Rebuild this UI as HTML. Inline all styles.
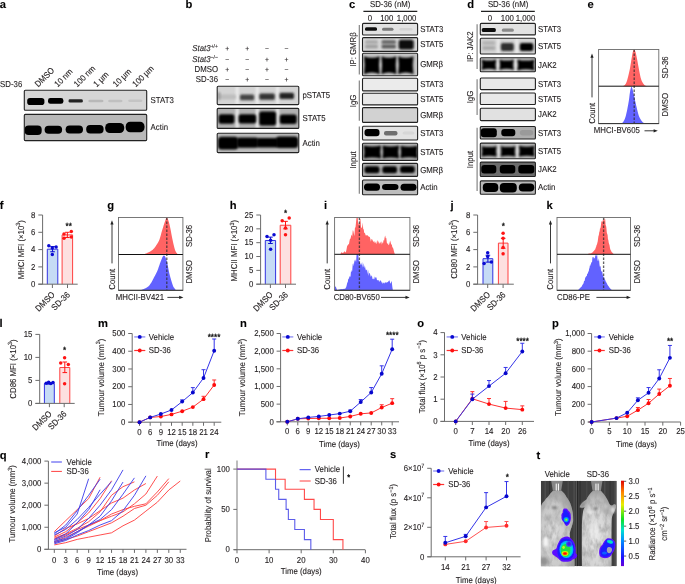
<!DOCTYPE html>
<html><head><meta charset="utf-8"><style>
html,body{margin:0;padding:0;background:#fff;width:685px;height:584px;overflow:hidden}
svg{display:block;will-change:transform}
text{font-family:"Liberation Sans",sans-serif;text-rendering:geometricPrecision;stroke:#231f20;stroke-width:0.12px}
</style></head><body>
<svg width="685" height="584" viewBox="0 0 685 584" font-family="Liberation Sans, sans-serif" fill="#231f20">
<defs>
<filter id="b0" x="-40%" y="-60%" width="180%" height="220%"><feGaussianBlur stdDeviation="0.5"/></filter>
<filter id="b1" x="-40%" y="-60%" width="180%" height="220%"><feGaussianBlur stdDeviation="0.8"/></filter>
<filter id="b2" x="-40%" y="-60%" width="180%" height="220%"><feGaussianBlur stdDeviation="1.2"/></filter>
<clipPath id="c1"><rect x="24.3" y="90.3" width="122.39999999999999" height="19.900000000000006" rx="1"/></clipPath>
<clipPath id="c2"><rect x="24.3" y="114.4" width="122.39999999999999" height="26.19999999999999" rx="1"/></clipPath>
<clipPath id="c3"><rect x="217.2" y="86.3" width="81.60000000000002" height="18.299999999999997" rx="1"/></clipPath>
<clipPath id="c4"><rect x="217.2" y="108.4" width="81.60000000000002" height="20.0" rx="1"/></clipPath>
<clipPath id="c5"><rect x="217.2" y="133.3" width="81.60000000000002" height="19.299999999999983" rx="1"/></clipPath>
<clipPath id="c6"><rect x="362.5" y="23.4" width="55.10000000000002" height="11.600000000000001" rx="1"/></clipPath>
<clipPath id="c7"><rect x="362.5" y="37.6" width="55.10000000000002" height="13.799999999999997" rx="1"/></clipPath>
<clipPath id="c8"><rect x="362.5" y="53.3" width="55.10000000000002" height="22.400000000000006" rx="1"/></clipPath>
<clipPath id="c9"><rect x="362.5" y="78.3" width="55.10000000000002" height="12.600000000000009" rx="1"/></clipPath>
<clipPath id="c10"><rect x="362.5" y="93.2" width="55.10000000000002" height="11.700000000000003" rx="1"/></clipPath>
<clipPath id="c11"><rect x="362.5" y="107.6" width="55.10000000000002" height="14.800000000000011" rx="1"/></clipPath>
<clipPath id="c12"><rect x="362.5" y="126.3" width="55.10000000000002" height="13.700000000000003" rx="1"/></clipPath>
<clipPath id="c13"><rect x="362.5" y="143.3" width="55.10000000000002" height="17.099999999999994" rx="1"/></clipPath>
<clipPath id="c14"><rect x="362.5" y="163.4" width="55.10000000000002" height="13.0" rx="1"/></clipPath>
<clipPath id="c15"><rect x="362.5" y="180.0" width="55.10000000000002" height="14.699999999999989" rx="1"/></clipPath>
<clipPath id="c16"><rect x="480.3" y="23.4" width="55.099999999999966" height="11.5" rx="1"/></clipPath>
<clipPath id="c17"><rect x="480.3" y="38.2" width="55.099999999999966" height="15.799999999999997" rx="1"/></clipPath>
<clipPath id="c18"><rect x="480.3" y="57.7" width="55.099999999999966" height="14.099999999999994" rx="1"/></clipPath>
<clipPath id="c19"><rect x="480.3" y="78.0" width="55.099999999999966" height="11.599999999999994" rx="1"/></clipPath>
<clipPath id="c20"><rect x="480.3" y="93.0" width="55.099999999999966" height="11.5" rx="1"/></clipPath>
<clipPath id="c21"><rect x="480.3" y="108.2" width="55.099999999999966" height="12.399999999999991" rx="1"/></clipPath>
<clipPath id="c22"><rect x="480.3" y="126.5" width="55.099999999999966" height="12.5" rx="1"/></clipPath>
<clipPath id="c23"><rect x="480.3" y="143.1" width="55.099999999999966" height="15.599999999999994" rx="1"/></clipPath>
<clipPath id="c24"><rect x="480.3" y="162.1" width="55.099999999999966" height="14.400000000000006" rx="1"/></clipPath>
<clipPath id="c25"><rect x="480.3" y="180.9" width="55.099999999999966" height="13.400000000000006" rx="1"/></clipPath>
<clipPath id="h599"><rect x="598.6" y="49.5" width="60.19999999999993" height="74.1"/></clipPath>
<clipPath id="h118"><rect x="118.5" y="217.5" width="64.4" height="72.80000000000001"/></clipPath>
<clipPath id="h335"><rect x="334.6" y="217.5" width="75.29999999999995" height="72.80000000000001"/></clipPath>
<clipPath id="h557"><rect x="557.0" y="217.5" width="73.5" height="72.80000000000001"/></clipPath>
<clipPath id="tclip"><rect x="540.8" y="480.8" width="76" height="85.5"/></clipPath>
<linearGradient id="bgL" x1="0" y1="0" x2="1" y2="0"><stop offset="0" stop-color="#4a4a4a"/><stop offset="0.5" stop-color="#3c3c3c"/><stop offset="1" stop-color="#505050"/></linearGradient>
<radialGradient id="bodyG" cx="0.4" cy="0.6" r="0.65"><stop offset="0" stop-color="#dcdcdc"/><stop offset="0.65" stop-color="#c8c8c8"/><stop offset="1" stop-color="#9a9a9a"/></radialGradient>
<radialGradient id="bodyG2" cx="0.45" cy="0.62" r="0.62"><stop offset="0" stop-color="#e6e6e6"/><stop offset="0.7" stop-color="#d0d0d0"/><stop offset="1" stop-color="#a0a0a0"/></radialGradient>
<linearGradient id="cbar" x1="0" y1="1" x2="0" y2="0">
<stop offset="0" stop-color="#6a00d8"/><stop offset="0.1" stop-color="#1c10ff"/><stop offset="0.3" stop-color="#0090ff"/><stop offset="0.42" stop-color="#00e0d0"/><stop offset="0.55" stop-color="#10e020"/><stop offset="0.72" stop-color="#e8ee00"/><stop offset="0.86" stop-color="#ff8800"/><stop offset="1" stop-color="#e00000"/></linearGradient>
<filter id="fur" x="0" y="0" width="1" height="1"><feTurbulence type="fractalNoise" baseFrequency="0.22 0.12" numOctaves="3" seed="5" result="n"/><feColorMatrix in="n" type="matrix" values="0 0 0 0 0.35  0 0 0 0 0.35  0 0 0 0 0.35  0 0 0 1.6 -0.55" result="m"/><feComposite in="m" in2="SourceGraphic" operator="in" result="t"/><feMerge><feMergeNode in="SourceGraphic"/><feMergeNode in="t"/></feMerge></filter>
<filter id="bl2" x="-30%" y="-30%" width="160%" height="160%"><feGaussianBlur stdDeviation="0.9"/></filter>
<filter id="bl3" x="-30%" y="-30%" width="160%" height="160%"><feGaussianBlur stdDeviation="0.6"/></filter>
</defs>
<rect width="685" height="584" fill="#fff"/>
<text transform="translate(-0.20,7.60)" font-size="11.2" font-weight="bold" fill="#000" >a</text>
<text transform="translate(0.10,87.30) scale(0.91,1)" font-size="8.6" >SD-36</text>
<text transform="translate(38.30,87.60) rotate(-45) scale(0.91,1)" font-size="8.6" >DMSO</text>
<text transform="translate(57.80,87.60) rotate(-45) scale(0.91,1)" font-size="8.6" >10 nm</text>
<text transform="translate(77.30,87.60) rotate(-45) scale(0.91,1)" font-size="8.6" >100 nm</text>
<text transform="translate(96.80,87.60) rotate(-45) scale(0.91,1)" font-size="8.6" >1 µm</text>
<text transform="translate(116.30,87.60) rotate(-45) scale(0.91,1)" font-size="8.6" >10 µm</text>
<text transform="translate(135.80,87.60) rotate(-45) scale(0.91,1)" font-size="8.6" >100 µm</text>
<g clip-path="url(#c1)">
<rect x="24.3" y="90.3" width="122.39999999999999" height="19.900000000000006" fill="#d6d6d6"/>
<rect x="27.20" y="98.00" width="17.20" height="7.00" rx="2.8" fill="#000" filter="url(#b0)"/>
<rect x="48.00" y="98.00" width="15.40" height="5.80" rx="2.4" fill="#000" filter="url(#b0)"/>
<rect x="68.60" y="99.20" width="14.20" height="3.40" rx="1.4" fill="#222" filter="url(#b0)"/>
<rect x="88.30" y="99.80" width="15.20" height="2.40" rx="1.8" fill="#b8b8b8" filter="url(#b0)"/>
<rect x="108.20" y="99.80" width="14.30" height="2.40" rx="1.8" fill="#c0c0c0" filter="url(#b0)"/>
<rect x="128.20" y="99.50" width="14.20" height="2.50" rx="1.8" fill="#c4c4c4" filter="url(#b0)"/>
</g>
<rect x="24.3" y="90.3" width="122.39999999999999" height="19.900000000000006" rx="1" fill="none" stroke="#222" stroke-width="1.1"/>
<g clip-path="url(#c2)">
<rect x="24.3" y="114.4" width="122.39999999999999" height="26.19999999999999" fill="#b9b9b9"/>
<rect x="24.60" y="125.40" width="17.10" height="9.60" rx="4" fill="#000" filter="url(#b0)"/>
<rect x="44.60" y="125.80" width="17.50" height="8.00" rx="4" fill="#000" filter="url(#b0)"/>
<rect x="65.60" y="125.60" width="17.40" height="7.80" rx="4" fill="#000" filter="url(#b0)"/>
<rect x="86.20" y="124.90" width="17.40" height="8.70" rx="4" fill="#000" filter="url(#b0)"/>
<rect x="105.20" y="123.00" width="19.00" height="10.00" rx="4.5" fill="#000" filter="url(#b0)"/>
<rect x="125.70" y="121.80" width="18.80" height="10.40" rx="4.5" fill="#000" filter="url(#b0)"/>
</g>
<rect x="24.3" y="114.4" width="122.39999999999999" height="26.19999999999999" rx="1" fill="none" stroke="#222" stroke-width="1.1"/>
<text transform="translate(150.60,102.60) scale(0.91,1)" font-size="8.6" >STAT3</text>
<text transform="translate(150.60,130.20) scale(0.91,1)" font-size="8.6" >Actin</text>
<text transform="translate(185.50,7.60)" font-size="11.2" font-weight="bold" fill="#000" >b</text>
<text transform="translate(218.00,51.30) scale(0.91,1)" font-size="8.6" text-anchor="end" ><tspan font-style="italic">Stat3</tspan><tspan font-size="5.6" dy="-3.2">+/+</tspan></text>
<text transform="translate(218.00,61.80) scale(0.91,1)" font-size="8.6" text-anchor="end" ><tspan font-style="italic">Stat3</tspan><tspan font-size="5.6" dy="-3.2">−/−</tspan></text>
<text transform="translate(218.00,72.10) scale(0.91,1)" font-size="8.6" text-anchor="end" >DMSO</text>
<text transform="translate(218.00,81.80) scale(0.91,1)" font-size="8.6" text-anchor="end" >SD-36</text>
<text transform="translate(227.30,51.00) scale(0.91,1)" font-size="7.4" text-anchor="middle" >+</text>
<text transform="translate(247.10,51.00) scale(0.91,1)" font-size="7.4" text-anchor="middle" >+</text>
<text transform="translate(266.90,51.30) scale(0.91,1)" font-size="7.4" text-anchor="middle" >−</text>
<text transform="translate(286.50,51.30) scale(0.91,1)" font-size="7.4" text-anchor="middle" >−</text>
<text transform="translate(227.30,61.80) scale(0.91,1)" font-size="7.4" text-anchor="middle" >−</text>
<text transform="translate(247.10,61.80) scale(0.91,1)" font-size="7.4" text-anchor="middle" >−</text>
<text transform="translate(266.90,61.50) scale(0.91,1)" font-size="7.4" text-anchor="middle" >+</text>
<text transform="translate(286.50,61.50) scale(0.91,1)" font-size="7.4" text-anchor="middle" >+</text>
<text transform="translate(227.30,71.80) scale(0.91,1)" font-size="7.4" text-anchor="middle" >+</text>
<text transform="translate(247.10,72.10) scale(0.91,1)" font-size="7.4" text-anchor="middle" >−</text>
<text transform="translate(266.90,71.80) scale(0.91,1)" font-size="7.4" text-anchor="middle" >+</text>
<text transform="translate(286.50,72.10) scale(0.91,1)" font-size="7.4" text-anchor="middle" >−</text>
<text transform="translate(227.30,81.80) scale(0.91,1)" font-size="7.4" text-anchor="middle" >−</text>
<text transform="translate(247.10,81.50) scale(0.91,1)" font-size="7.4" text-anchor="middle" >+</text>
<text transform="translate(266.90,81.80) scale(0.91,1)" font-size="7.4" text-anchor="middle" >−</text>
<text transform="translate(286.50,81.50) scale(0.91,1)" font-size="7.4" text-anchor="middle" >+</text>
<g clip-path="url(#c3)">
<rect x="217.2" y="86.3" width="81.60000000000002" height="18.299999999999997" fill="#d4d4d4"/>
<rect x="235.70" y="86.3" width="3" height="18.299999999999997" fill="#ececec" filter="url(#b1)"/>
<rect x="255.80" y="86.3" width="3" height="18.299999999999997" fill="#ececec" filter="url(#b1)"/>
<rect x="276.10" y="86.3" width="3" height="18.299999999999997" fill="#ececec" filter="url(#b1)"/>
<rect x="219.50" y="94.50" width="16.50" height="4.70" rx="1.5" fill="#bdbdbd" filter="url(#b1)"/>
<rect x="217.50" y="92.00" width="3.00" height="8.00" rx="1.5" fill="#9a9a9a" filter="url(#b1)"/>
<rect x="240.00" y="94.40" width="14.20" height="5.80" rx="1.5" fill="#444" filter="url(#b1)"/>
<rect x="259.30" y="93.40" width="15.50" height="6.40" rx="1.5" fill="#303030" filter="url(#b1)"/>
<rect x="279.50" y="92.80" width="14.50" height="6.20" rx="1.5" fill="#222" filter="url(#b1)"/>
</g>
<rect x="217.2" y="86.3" width="81.60000000000002" height="18.299999999999997" rx="1" fill="none" stroke="#222" stroke-width="1.1"/>
<g clip-path="url(#c4)">
<rect x="217.2" y="108.4" width="81.60000000000002" height="20.0" fill="#b2b2b2"/>
<rect x="235.70" y="108.4" width="3" height="20.0" fill="#ececec" filter="url(#b1)"/>
<rect x="255.80" y="108.4" width="3" height="20.0" fill="#ececec" filter="url(#b1)"/>
<rect x="276.10" y="108.4" width="3" height="20.0" fill="#ececec" filter="url(#b1)"/>
<rect x="218.60" y="114.20" width="15.80" height="9.60" rx="2.5" fill="#000" filter="url(#b1)"/>
<rect x="238.60" y="114.20" width="17.60" height="9.40" rx="2.5" fill="#000" filter="url(#b1)"/>
<rect x="259.20" y="111.40" width="16.90" height="14.20" rx="2.5" fill="#000" filter="url(#b1)"/>
<rect x="279.80" y="114.40" width="16.90" height="9.60" rx="2.5" fill="#000" filter="url(#b1)"/>
</g>
<rect x="217.2" y="108.4" width="81.60000000000002" height="20.0" rx="1" fill="none" stroke="#222" stroke-width="1.1"/>
<g clip-path="url(#c5)">
<rect x="217.2" y="133.3" width="81.60000000000002" height="19.299999999999983" fill="#bcbcbc"/>
<rect x="218.00" y="136.80" width="20.30" height="12.80" rx="3.5" fill="#000" filter="url(#b1)"/>
<rect x="236.80" y="137.60" width="21.50" height="10.20" rx="3" fill="#000" filter="url(#b1)"/>
<rect x="256.30" y="138.00" width="22.00" height="9.60" rx="3" fill="#000" filter="url(#b1)"/>
<rect x="275.80" y="136.60" width="22.50" height="11.40" rx="3.5" fill="#000" filter="url(#b1)"/>
</g>
<rect x="217.2" y="133.3" width="81.60000000000002" height="19.299999999999983" rx="1" fill="none" stroke="#222" stroke-width="1.1"/>
<text transform="translate(302.50,98.10) scale(0.91,1)" font-size="8.6" >pSTAT5</text>
<text transform="translate(302.50,121.20) scale(0.91,1)" font-size="8.6" >STAT5</text>
<text transform="translate(302.50,145.50) scale(0.91,1)" font-size="8.6" >Actin</text>
<text transform="translate(349.00,7.60)" font-size="11.2" font-weight="bold" fill="#000" >c</text>
<text transform="translate(390.20,7.00) scale(0.91,1)" font-size="8.6" text-anchor="middle" >SD-36 (nM)</text>
<line x1="363.40" y1="11.40" x2="417.30" y2="11.40" stroke="#222" stroke-width="1.1" />
<text transform="translate(370.00,20.80) scale(0.91,1)" font-size="8.6" text-anchor="middle" >0</text>
<text transform="translate(386.80,20.80) scale(0.91,1)" font-size="8.6" text-anchor="middle" >100</text>
<text transform="translate(406.60,20.80) scale(0.91,1)" font-size="8.6" text-anchor="middle" >1,000</text>
<g clip-path="url(#c6)">
<rect x="362.5" y="23.4" width="55.10000000000002" height="11.600000000000001" fill="#e2e2e2"/>
<rect x="365.00" y="27.30" width="12.00" height="3.50" rx="1.5" fill="#111" filter="url(#b0)"/>
<rect x="382.00" y="27.80" width="11.50" height="3.00" rx="1.5" fill="#7a7a7a" filter="url(#b0)"/>
<rect x="399.50" y="28.00" width="13.00" height="2.50" rx="1.5" fill="#d2d2d2" filter="url(#b0)"/>
</g>
<rect x="362.5" y="23.4" width="55.10000000000002" height="11.600000000000001" rx="1" fill="none" stroke="#222" stroke-width="1.1"/>
<text transform="translate(420.20,31.95) scale(0.91,1)" font-size="8.6" >STAT3</text>
<g clip-path="url(#c7)">
<rect x="362.5" y="37.6" width="55.10000000000002" height="13.799999999999997" fill="#d8d8d8"/>
<rect x="365.00" y="40.00" width="13.00" height="4.00" rx="1.5" fill="#acacac" filter="url(#b1)"/>
<rect x="365.00" y="44.50" width="13.00" height="4.00" rx="1.5" fill="#a0a0a0" filter="url(#b1)"/>
<rect x="381.50" y="40.00" width="14.50" height="4.00" rx="1.5" fill="#6a6a6a" filter="url(#b1)"/>
<rect x="381.50" y="44.50" width="14.50" height="4.00" rx="1.5" fill="#5a5a5a" filter="url(#b1)"/>
<rect x="398.70" y="39.80" width="15.00" height="9.80" rx="2" fill="#0a0a0a" filter="url(#b1)"/>
</g>
<rect x="362.5" y="37.6" width="55.10000000000002" height="13.799999999999997" rx="1" fill="none" stroke="#222" stroke-width="1.1"/>
<text transform="translate(420.20,47.25) scale(0.91,1)" font-size="8.6" >STAT5</text>
<g clip-path="url(#c8)">
<rect x="362.5" y="53.3" width="55.10000000000002" height="22.400000000000006" fill="#c4c4c4"/>
<rect x="379.70" y="53.3" width="2.0" height="22.400000000000006" fill="#dadada" filter="url(#b1)"/>
<rect x="396.50" y="53.3" width="2.0" height="22.400000000000006" fill="#dadada" filter="url(#b1)"/>
<path d="M364.00,56.20 Q371.90,59.40 379.80,56.20 Q378.30,65.20 379.80,74.20 Q371.90,71.00 364.00,74.20 Q365.50,65.20 364.00,56.20 Z" fill="#000" filter="url(#b1)"/>
<path d="M381.30,56.20 Q388.90,59.40 396.50,56.20 Q395.00,65.20 396.50,74.20 Q388.90,71.00 381.30,74.20 Q382.80,65.20 381.30,56.20 Z" fill="#000" filter="url(#b1)"/>
<path d="M398.10,56.20 Q405.80,59.40 413.50,56.20 Q412.00,65.20 413.50,74.20 Q405.80,71.00 398.10,74.20 Q399.60,65.20 398.10,56.20 Z" fill="#000" filter="url(#b1)"/>
</g>
<rect x="362.5" y="53.3" width="55.10000000000002" height="22.400000000000006" rx="1" fill="none" stroke="#222" stroke-width="1.1"/>
<text transform="translate(420.20,67.25) scale(0.91,1)" font-size="8.6" >GMRβ</text>
<g clip-path="url(#c9)">
<rect x="362.5" y="78.3" width="55.10000000000002" height="12.600000000000009" fill="#ebebeb"/>
</g>
<rect x="362.5" y="78.3" width="55.10000000000002" height="12.600000000000009" rx="1" fill="none" stroke="#222" stroke-width="1.1"/>
<text transform="translate(420.20,87.35) scale(0.91,1)" font-size="8.6" >STAT3</text>
<g clip-path="url(#c10)">
<rect x="362.5" y="93.2" width="55.10000000000002" height="11.700000000000003" fill="#e8e8e8"/>
</g>
<rect x="362.5" y="93.2" width="55.10000000000002" height="11.700000000000003" rx="1" fill="none" stroke="#222" stroke-width="1.1"/>
<text transform="translate(420.20,101.80) scale(0.91,1)" font-size="8.6" >STAT5</text>
<g clip-path="url(#c11)">
<rect x="362.5" y="107.6" width="55.10000000000002" height="14.800000000000011" fill="#d2d2d2"/>
</g>
<rect x="362.5" y="107.6" width="55.10000000000002" height="14.800000000000011" rx="1" fill="none" stroke="#222" stroke-width="1.1"/>
<text transform="translate(420.20,117.75) scale(0.91,1)" font-size="8.6" >GMRβ</text>
<g clip-path="url(#c12)">
<rect x="362.5" y="126.3" width="55.10000000000002" height="13.700000000000003" fill="#e2e2e2"/>
<rect x="364.50" y="129.00" width="15.00" height="7.30" rx="3" fill="#000" filter="url(#b0)"/>
<rect x="384.00" y="131.00" width="13.50" height="4.50" rx="2" fill="#6e6e6e" filter="url(#b0)"/>
<rect x="402.50" y="131.50" width="12.00" height="3.00" rx="2" fill="#d6d6d6" filter="url(#b0)"/>
</g>
<rect x="362.5" y="126.3" width="55.10000000000002" height="13.700000000000003" rx="1" fill="none" stroke="#222" stroke-width="1.1"/>
<text transform="translate(420.20,135.90) scale(0.91,1)" font-size="8.6" >STAT3</text>
<g clip-path="url(#c13)">
<rect x="362.5" y="143.3" width="55.10000000000002" height="17.099999999999994" fill="#b4b4b4"/>
<rect x="381.00" y="143.3" width="1.6" height="17.099999999999994" fill="#d0d0d0" filter="url(#b1)"/>
<rect x="399.00" y="143.3" width="1.6" height="17.099999999999994" fill="#d0d0d0" filter="url(#b1)"/>
<path d="M363.70,145.60 Q372.40,147.60 381.10,145.60 Q379.60,152.10 381.10,158.60 Q372.40,156.60 363.70,158.60 Q365.20,152.10 363.70,145.60 Z" fill="#000" filter="url(#b1)"/>
<path d="M382.30,145.60 Q390.70,147.60 399.10,145.60 Q397.60,152.10 399.10,158.60 Q390.70,156.60 382.30,158.60 Q383.80,152.10 382.30,145.60 Z" fill="#000" filter="url(#b1)"/>
<path d="M400.30,145.80 Q409.00,147.80 417.70,145.80 Q416.20,152.00 417.70,158.20 Q409.00,156.20 400.30,158.20 Q401.80,152.00 400.30,145.80 Z" fill="#000" filter="url(#b1)"/>
</g>
<rect x="362.5" y="143.3" width="55.10000000000002" height="17.099999999999994" rx="1" fill="none" stroke="#222" stroke-width="1.1"/>
<text transform="translate(420.20,154.60) scale(0.91,1)" font-size="8.6" >STAT5</text>
<g clip-path="url(#c14)">
<rect x="362.5" y="163.4" width="55.10000000000002" height="13.0" fill="#b2b2b2"/>
<rect x="364.50" y="166.30" width="15.00" height="7.00" rx="2.5" fill="#000" filter="url(#b1)"/>
<rect x="382.30" y="166.30" width="14.80" height="7.00" rx="2.5" fill="#000" filter="url(#b1)"/>
<rect x="400.00" y="166.00" width="14.80" height="7.00" rx="2.5" fill="#000" filter="url(#b1)"/>
</g>
<rect x="362.5" y="163.4" width="55.10000000000002" height="13.0" rx="1" fill="none" stroke="#222" stroke-width="1.1"/>
<text transform="translate(420.20,172.65) scale(0.91,1)" font-size="8.6" >GMRβ</text>
<g clip-path="url(#c15)">
<rect x="362.5" y="180.0" width="55.10000000000002" height="14.699999999999989" fill="#bdbdbd"/>
<rect x="364.00" y="183.60" width="16.00" height="7.10" rx="3.5" fill="#000" filter="url(#b0)"/>
<rect x="382.00" y="184.00" width="16.50" height="6.00" rx="3.5" fill="#000" filter="url(#b0)"/>
<rect x="400.50" y="183.80" width="16.00" height="7.00" rx="3.5" fill="#000" filter="url(#b0)"/>
</g>
<rect x="362.5" y="180.0" width="55.10000000000002" height="14.699999999999989" rx="1" fill="none" stroke="#222" stroke-width="1.1"/>
<text transform="translate(420.20,190.10) scale(0.91,1)" font-size="8.6" >Actin</text>
<line x1="359.30" y1="25.00" x2="359.30" y2="74.50" stroke="#7a7a7a" stroke-width="1.1" />
<line x1="359.30" y1="80.60" x2="359.30" y2="120.80" stroke="#7a7a7a" stroke-width="1.1" />
<line x1="359.30" y1="126.60" x2="359.30" y2="193.70" stroke="#7a7a7a" stroke-width="1.1" />
<text transform="translate(355.50,49.50) rotate(-90) scale(0.91,1)" font-size="8.6" text-anchor="middle" >IP: GMRβ</text>
<text transform="translate(355.50,100.90) rotate(-90) scale(0.91,1)" font-size="8.6" text-anchor="middle" >IgG</text>
<text transform="translate(355.50,159.90) rotate(-90) scale(0.91,1)" font-size="8.6" text-anchor="middle" >Input</text>
<text transform="translate(467.30,7.60)" font-size="11.2" font-weight="bold" fill="#000" >d</text>
<text transform="translate(508.10,7.00) scale(0.91,1)" font-size="8.6" text-anchor="middle" >SD-36 (nM)</text>
<line x1="481.00" y1="11.40" x2="534.80" y2="11.40" stroke="#222" stroke-width="1.1" />
<text transform="translate(489.90,20.60) scale(0.91,1)" font-size="8.6" text-anchor="middle" >0</text>
<text transform="translate(507.40,20.60) scale(0.91,1)" font-size="8.6" text-anchor="middle" >100</text>
<text transform="translate(525.50,20.60) scale(0.91,1)" font-size="8.6" text-anchor="middle" >1,000</text>
<g clip-path="url(#c16)">
<rect x="480.3" y="23.4" width="55.099999999999966" height="11.5" fill="#e2e2e2"/>
<rect x="481.80" y="28.00" width="14.00" height="4.00" rx="1.5" fill="#0a0a0a" filter="url(#b0)"/>
<rect x="501.80" y="28.60" width="12.00" height="3.20" rx="1.5" fill="#8a8a8a" filter="url(#b0)"/>
</g>
<rect x="480.3" y="23.4" width="55.099999999999966" height="11.5" rx="1" fill="none" stroke="#222" stroke-width="1.1"/>
<text transform="translate(538.00,31.90) scale(0.91,1)" font-size="8.6" >STAT3</text>
<g clip-path="url(#c17)">
<rect x="480.3" y="38.2" width="55.099999999999966" height="15.799999999999997" fill="#d4d4d4"/>
<rect x="496.80" y="38.2" width="3" height="15.799999999999997" fill="#e8e8e8" filter="url(#b1)"/>
<rect x="515.30" y="38.2" width="3" height="15.799999999999997" fill="#e8e8e8" filter="url(#b1)"/>
<rect x="482.30" y="41.00" width="13.00" height="4.00" rx="1.5" fill="#b4b4b4" filter="url(#b1)"/>
<rect x="482.30" y="46.00" width="13.00" height="4.00" rx="1.5" fill="#aaaaaa" filter="url(#b1)"/>
<rect x="500.80" y="43.00" width="13.00" height="8.00" rx="2" fill="#2e2e2e" filter="url(#b1)"/>
<rect x="519.80" y="43.00" width="13.50" height="8.00" rx="2" fill="#000" filter="url(#b1)"/>
</g>
<rect x="480.3" y="38.2" width="55.099999999999966" height="15.799999999999997" rx="1" fill="none" stroke="#222" stroke-width="1.1"/>
<text transform="translate(538.00,48.85) scale(0.91,1)" font-size="8.6" >STAT5</text>
<g clip-path="url(#c18)">
<rect x="480.3" y="57.7" width="55.099999999999966" height="14.099999999999994" fill="#c4c4c4"/>
<rect x="496.60" y="57.7" width="2.6" height="14.099999999999994" fill="#e4e4e4" filter="url(#b1)"/>
<rect x="514.40" y="57.7" width="2.6" height="14.099999999999994" fill="#e4e4e4" filter="url(#b1)"/>
<path d="M481.60,59.40 Q488.95,61.80 496.30,59.40 Q494.80,64.70 496.30,70.00 Q488.95,67.60 481.60,70.00 Q483.10,64.70 481.60,59.40 Z" fill="#000" filter="url(#b1)"/>
<path d="M499.30,59.40 Q506.60,61.80 513.90,59.40 Q512.40,64.70 513.90,70.00 Q506.60,67.60 499.30,70.00 Q500.80,64.70 499.30,59.40 Z" fill="#000" filter="url(#b1)"/>
<path d="M517.30,59.40 Q525.90,61.80 534.50,59.40 Q533.00,64.90 534.50,70.40 Q525.90,68.00 517.30,70.40 Q518.80,64.90 517.30,59.40 Z" fill="#000" filter="url(#b1)"/>
</g>
<rect x="480.3" y="57.7" width="55.099999999999966" height="14.099999999999994" rx="1" fill="none" stroke="#222" stroke-width="1.1"/>
<text transform="translate(538.00,67.50) scale(0.91,1)" font-size="8.6" >JAK2</text>
<g clip-path="url(#c19)">
<rect x="480.3" y="78.0" width="55.099999999999966" height="11.599999999999994" fill="#e9e9e9"/>
</g>
<rect x="480.3" y="78.0" width="55.099999999999966" height="11.599999999999994" rx="1" fill="none" stroke="#222" stroke-width="1.1"/>
<text transform="translate(538.00,86.55) scale(0.91,1)" font-size="8.6" >STAT3</text>
<g clip-path="url(#c20)">
<rect x="480.3" y="93.0" width="55.099999999999966" height="11.5" fill="#e9e9e9"/>
</g>
<rect x="480.3" y="93.0" width="55.099999999999966" height="11.5" rx="1" fill="none" stroke="#222" stroke-width="1.1"/>
<text transform="translate(538.00,101.50) scale(0.91,1)" font-size="8.6" >STAT5</text>
<g clip-path="url(#c21)">
<rect x="480.3" y="108.2" width="55.099999999999966" height="12.399999999999991" fill="#e1e1e1"/>
</g>
<rect x="480.3" y="108.2" width="55.099999999999966" height="12.399999999999991" rx="1" fill="none" stroke="#222" stroke-width="1.1"/>
<text transform="translate(538.00,117.15) scale(0.91,1)" font-size="8.6" >JAK2</text>
<g clip-path="url(#c22)">
<rect x="480.3" y="126.5" width="55.099999999999966" height="12.5" fill="#adadad"/>
<rect x="480.80" y="128.30" width="16.00" height="8.90" rx="3" fill="#000" filter="url(#b0)"/>
<rect x="501.30" y="129.00" width="14.00" height="7.30" rx="3" fill="#000" filter="url(#b0)"/>
<rect x="519.80" y="130.00" width="13.50" height="5.50" rx="3" fill="#9a9a9a" filter="url(#b0)"/>
</g>
<rect x="480.3" y="126.5" width="55.099999999999966" height="12.5" rx="1" fill="none" stroke="#222" stroke-width="1.1"/>
<text transform="translate(538.00,135.50) scale(0.91,1)" font-size="8.6" >STAT3</text>
<g clip-path="url(#c23)">
<rect x="480.3" y="143.1" width="55.099999999999966" height="15.599999999999994" fill="#b6b6b6"/>
<rect x="497.20" y="143.1" width="2.6" height="15.599999999999994" fill="#dedede" filter="url(#b1)"/>
<rect x="516.00" y="143.1" width="2.6" height="15.599999999999994" fill="#dedede" filter="url(#b1)"/>
<path d="M481.60,146.20 Q489.15,148.00 496.70,146.20 Q495.20,151.40 496.70,156.60 Q489.15,154.80 481.60,156.60 Q483.10,151.40 481.60,146.20 Z" fill="#000" filter="url(#b1)"/>
<path d="M500.50,146.20 Q508.05,148.00 515.60,146.20 Q514.10,151.40 515.60,156.60 Q508.05,154.80 500.50,156.60 Q502.00,151.40 500.50,146.20 Z" fill="#000" filter="url(#b1)"/>
<path d="M518.90,145.80 Q526.75,147.60 534.60,145.80 Q533.10,151.20 534.60,156.60 Q526.75,154.80 518.90,156.60 Q520.40,151.20 518.90,145.80 Z" fill="#000" filter="url(#b1)"/>
</g>
<rect x="480.3" y="143.1" width="55.099999999999966" height="15.599999999999994" rx="1" fill="none" stroke="#222" stroke-width="1.1"/>
<text transform="translate(538.00,153.65) scale(0.91,1)" font-size="8.6" >STAT5</text>
<g clip-path="url(#c24)">
<rect x="480.3" y="162.1" width="55.099999999999966" height="14.400000000000006" fill="#6c6c6c"/>
<rect x="481.30" y="165.00" width="15.00" height="8.50" rx="3" fill="#000" filter="url(#b0)"/>
<rect x="499.80" y="165.00" width="15.50" height="8.50" rx="3" fill="#000" filter="url(#b0)"/>
<rect x="518.30" y="165.00" width="16.00" height="8.50" rx="3" fill="#000" filter="url(#b0)"/>
</g>
<rect x="480.3" y="162.1" width="55.099999999999966" height="14.400000000000006" rx="1" fill="none" stroke="#222" stroke-width="1.1"/>
<text transform="translate(538.00,172.05) scale(0.91,1)" font-size="8.6" >JAK2</text>
<g clip-path="url(#c25)">
<rect x="480.3" y="180.9" width="55.099999999999966" height="13.400000000000006" fill="#b8b8b8"/>
<rect x="482.80" y="183.00" width="15.50" height="9.00" rx="4" fill="#000" filter="url(#b0)"/>
<rect x="499.80" y="183.00" width="17.00" height="9.50" rx="4" fill="#000" filter="url(#b0)"/>
<rect x="518.80" y="183.50" width="15.50" height="8.00" rx="4" fill="#000" filter="url(#b0)"/>
</g>
<rect x="480.3" y="180.9" width="55.099999999999966" height="13.400000000000006" rx="1" fill="none" stroke="#222" stroke-width="1.1"/>
<text transform="translate(538.00,190.35) scale(0.91,1)" font-size="8.6" >Actin</text>
<line x1="477.10" y1="24.30" x2="477.10" y2="69.00" stroke="#7a7a7a" stroke-width="1.1" />
<line x1="477.10" y1="79.30" x2="477.10" y2="114.90" stroke="#7a7a7a" stroke-width="1.1" />
<line x1="477.10" y1="127.70" x2="477.10" y2="190.90" stroke="#7a7a7a" stroke-width="1.1" />
<text transform="translate(473.30,46.70) rotate(-90) scale(0.91,1)" font-size="8.6" text-anchor="middle" >IP: JAK2</text>
<text transform="translate(473.30,97.00) rotate(-90) scale(0.91,1)" font-size="8.6" text-anchor="middle" >IgG</text>
<text transform="translate(473.30,159.50) rotate(-90) scale(0.91,1)" font-size="8.6" text-anchor="middle" >Input</text>
<text transform="translate(587.60,7.60)" font-size="11.2" font-weight="bold" fill="#000" >e</text>
<g clip-path="url(#h599)">
<path d="M623.00,86.20 L623.00,86.20 L623.27,86.04 L623.66,85.84 L624.10,85.57 L624.57,85.21 L625.00,84.73 L625.39,84.20 L625.77,83.64 L626.15,82.94 L626.56,81.99 L627.00,80.70 L627.36,79.48 L627.75,78.05 L628.16,76.45 L628.57,74.74 L628.97,73.01 L629.36,71.30 L629.70,69.69 L630.13,67.47 L630.51,65.23 L630.86,63.02 L631.19,60.93 L631.50,59.04 L631.97,56.28 L632.39,53.93 L632.80,52.07 L633.23,50.71 L633.67,49.84 L634.10,49.50 L634.54,49.77 L634.97,50.57 L635.40,51.70 L635.80,53.12 L636.19,54.86 L636.60,56.84 L637.05,59.10 L637.52,61.60 L638.00,64.18 L638.37,66.18 L638.74,68.26 L639.12,70.32 L639.50,72.25 L639.86,74.06 L640.22,75.79 L640.59,77.40 L641.00,78.86 L641.37,79.92 L641.76,80.89 L642.18,81.77 L642.59,82.56 L643.00,83.26 L643.40,83.87 L643.80,84.37 L644.19,84.80 L644.59,85.15 L645.00,85.47 L645.37,85.68 L645.77,85.85 L646.17,85.97 L646.55,86.06 L646.87,86.14 L647.10,86.20 L647.10,86.20 Z" fill="#ff6363"/>
<path d="M621.70,123.60 L621.70,123.60 L621.94,123.35 L622.27,123.02 L622.66,122.59 L623.09,122.06 L623.50,121.39 L623.84,120.79 L624.19,120.18 L624.54,119.48 L624.91,118.64 L625.30,117.58 L625.70,116.24 L626.07,114.79 L626.47,113.06 L626.89,111.14 L627.30,109.13 L627.70,107.10 L628.07,105.15 L628.40,103.36 L628.88,100.38 L629.27,97.47 L629.60,94.84 L629.90,92.69 L630.34,90.11 L630.70,88.64 L631.09,87.35 L631.50,86.80 L631.92,87.26 L632.40,88.64 L632.79,90.14 L633.23,92.05 L633.70,94.16 L634.08,95.87 L634.48,97.72 L634.89,99.64 L635.30,101.52 L635.71,103.36 L636.12,105.20 L636.55,107.04 L637.00,108.88 L637.37,110.40 L637.75,111.97 L638.15,113.51 L638.56,114.96 L639.00,116.24 L639.34,117.04 L639.69,117.78 L640.06,118.45 L640.44,119.07 L640.81,119.64 L641.16,120.17 L641.50,120.66 L641.93,121.26 L642.32,121.77 L642.70,122.19 L643.09,122.55 L643.50,122.86 L643.89,123.08 L644.33,123.25 L644.77,123.37 L645.19,123.46 L645.55,123.54 L645.80,123.60 L645.80,123.60 Z" fill="#6262ff"/>
</g>
<line x1="634.20" y1="49.50" x2="634.20" y2="123.60" stroke="#2a2a2a" stroke-width="1.35" stroke-dasharray="2.4,1.6" opacity="0.72"/>
<rect x="598.6" y="49.5" width="60.19999999999993" height="74.1" fill="none" stroke="#6a6a6a" stroke-width="0.9"/>
<line x1="598.60" y1="86.20" x2="658.80" y2="86.20" stroke="#111" stroke-width="1.0" />
<line x1="598.60" y1="123.60" x2="658.80" y2="123.60" stroke="#333" stroke-width="1.0" />
<text transform="translate(667.90,67.40) rotate(-90) scale(0.91,1)" font-size="8.6" text-anchor="middle" >SD-36</text>
<text transform="translate(667.90,104.70) rotate(-90) scale(0.91,1)" font-size="8.6" text-anchor="middle" >DMSO</text>
<text transform="translate(593.80,133.30) scale(0.91,1)" font-size="8.6" >MHCI-BV605</text>
<line x1="644.50" y1="130.80" x2="654.80" y2="130.80" stroke="#222" stroke-width="0.9" />
<path d="M657.80,130.80 L653.60,129.20 L653.60,132.40 Z" fill="#222"/>
<line x1="592.00" y1="56.50" x2="592.00" y2="97.40" stroke="#222" stroke-width="0.9" />
<path d="M592.00,53.50 L590.40,57.70 L593.60,57.70 Z" fill="#222"/>
<text transform="translate(594.70,113.20) rotate(-90) scale(0.91,1)" font-size="8.6" text-anchor="middle" >Count</text>
<text transform="translate(107.30,209.40)" font-size="11.2" font-weight="bold" fill="#000" >g</text>
<g clip-path="url(#h118)">
<path d="M143.60,254.50 L143.60,254.50 L143.83,254.40 L144.12,254.28 L144.47,254.13 L144.86,253.96 L145.27,253.78 L145.71,253.59 L146.15,253.40 L146.59,253.21 L147.00,253.02 L147.37,252.85 L147.75,252.67 L148.15,252.50 L148.54,252.32 L148.94,252.13 L149.34,251.95 L149.73,251.76 L150.10,251.56 L150.46,251.36 L150.80,251.16 L151.24,250.87 L151.65,250.58 L152.04,250.29 L152.41,249.99 L152.77,249.66 L153.13,249.31 L153.50,248.94 L153.87,248.54 L154.23,248.14 L154.58,247.72 L154.94,247.27 L155.31,246.77 L155.69,246.22 L156.10,245.60 L156.44,245.07 L156.80,244.51 L157.17,243.92 L157.56,243.30 L157.94,242.64 L158.33,241.95 L158.70,241.23 L159.06,240.46 L159.40,239.66 L159.81,238.54 L160.19,237.32 L160.56,236.03 L160.92,234.70 L161.27,233.36 L161.63,232.03 L162.00,230.76 L162.39,229.49 L162.78,228.18 L163.19,226.88 L163.59,225.60 L163.98,224.38 L164.35,223.24 L164.70,222.22 L165.15,220.90 L165.57,219.65 L165.96,218.59 L166.34,217.81 L166.70,217.40 L167.13,217.52 L167.52,218.19 L167.90,219.21 L168.30,220.37 L168.70,221.54 L169.09,222.87 L169.51,224.52 L170.00,226.68 L170.32,228.24 L170.68,230.06 L171.05,232.06 L171.44,234.14 L171.83,236.23 L172.22,238.22 L172.60,240.03 L172.97,241.73 L173.34,243.40 L173.71,245.02 L174.08,246.56 L174.45,248.00 L174.82,249.29 L175.20,250.42 L175.60,251.37 L176.04,252.16 L176.49,252.82 L176.93,253.37 L177.32,253.82 L177.66,254.19 L177.90,254.50 L177.90,254.50 Z" fill="#ff6363"/>
<path d="M140.90,290.10 L140.90,290.10 L141.11,290.02 L141.39,289.92 L141.71,289.80 L142.08,289.67 L142.47,289.53 L142.88,289.37 L143.30,289.21 L143.72,289.04 L144.12,288.86 L144.50,288.69 L144.87,288.51 L145.25,288.33 L145.63,288.15 L146.02,287.96 L146.40,287.76 L146.78,287.55 L147.15,287.33 L147.52,287.10 L147.87,286.84 L148.20,286.57 L148.60,286.20 L148.97,285.81 L149.33,285.40 L149.67,284.96 L150.01,284.50 L150.34,284.03 L150.67,283.54 L151.00,283.04 L151.36,282.47 L151.70,281.90 L152.02,281.31 L152.35,280.70 L152.69,280.02 L153.07,279.28 L153.50,278.45 L153.80,277.87 L154.13,277.25 L154.48,276.60 L154.84,275.92 L155.21,275.22 L155.59,274.49 L155.97,273.75 L156.34,272.99 L156.71,272.23 L157.06,271.46 L157.40,270.69 L157.79,269.71 L158.18,268.68 L158.55,267.61 L158.92,266.53 L159.28,265.45 L159.64,264.38 L159.99,263.36 L160.35,262.40 L160.70,261.51 L161.10,260.53 L161.49,259.52 L161.89,258.53 L162.27,257.60 L162.66,256.79 L163.04,256.14 L163.42,255.69 L163.80,255.51 L164.17,255.58 L164.55,255.87 L164.92,256.35 L165.28,257.01 L165.64,257.80 L166.00,258.72 L166.35,259.72 L166.70,260.80 L167.08,262.20 L167.44,263.84 L167.80,265.64 L168.15,267.54 L168.51,269.47 L168.89,271.37 L169.30,273.16 L169.64,274.53 L170.01,275.95 L170.40,277.39 L170.80,278.83 L171.19,280.22 L171.58,281.55 L171.95,282.78 L172.29,283.87 L172.60,284.81 L173.08,286.06 L173.48,286.89 L173.84,287.44 L174.17,287.87 L174.50,288.34 L174.92,288.94 L175.32,289.44 L175.66,289.82 L175.90,290.10 L175.90,290.10 Z" fill="#6262ff"/>
</g>
<line x1="166.80" y1="217.50" x2="166.80" y2="290.30" stroke="#2a2a2a" stroke-width="1.35" stroke-dasharray="2.4,1.6" opacity="0.72"/>
<rect x="118.5" y="217.5" width="64.4" height="72.80000000000001" fill="none" stroke="#6a6a6a" stroke-width="0.9"/>
<line x1="118.50" y1="254.50" x2="182.90" y2="254.50" stroke="#111" stroke-width="1.0" />
<line x1="118.50" y1="290.30" x2="182.90" y2="290.30" stroke="#333" stroke-width="1.0" />
<text transform="translate(192.30,235.90) rotate(-90) scale(0.91,1)" font-size="8.6" text-anchor="middle" >SD-36</text>
<text transform="translate(192.30,271.80) rotate(-90) scale(0.91,1)" font-size="8.6" text-anchor="middle" >DMSO</text>
<text transform="translate(115.80,299.60) scale(0.91,1)" font-size="8.6" >MHCII-BV421</text>
<line x1="167.40" y1="297.40" x2="180.40" y2="297.40" stroke="#222" stroke-width="0.9" />
<path d="M183.40,297.40 L179.20,295.80 L179.20,299.00 Z" fill="#222"/>
<line x1="112.00" y1="223.30" x2="112.00" y2="263.40" stroke="#222" stroke-width="0.9" />
<path d="M112.00,220.30 L110.40,224.50 L113.60,224.50 Z" fill="#222"/>
<text transform="translate(114.70,279.20) rotate(-90) scale(0.91,1)" font-size="8.6" text-anchor="middle" >Count</text>
<text transform="translate(323.90,209.40)" font-size="11.2" font-weight="bold" fill="#000" >i</text>
<g clip-path="url(#h335)">
<path d="M334.60,254.30 L334.60,254.30 L335.15,254.30 L335.70,254.30 L336.25,254.30 L336.80,254.30 L337.35,254.30 L337.90,254.30 L338.45,254.30 L339.00,254.30 L339.55,254.30 L340.10,254.30 L340.65,253.69 L341.20,252.15 L341.75,252.56 L342.30,252.74 L342.85,253.05 L343.40,252.70 L343.95,251.87 L344.50,251.31 L345.05,252.09 L345.60,252.39 L346.15,251.18 L346.70,248.59 L347.25,245.54 L347.80,245.44 L348.35,243.91 L348.90,244.55 L349.45,241.35 L350.00,238.71 L350.55,238.70 L351.10,235.93 L351.65,234.47 L352.20,236.63 L352.75,230.19 L353.30,230.87 L353.85,233.49 L354.40,235.88 L354.95,227.46 L355.50,227.50 L356.05,222.17 L356.60,217.36 L357.15,217.10 L357.70,217.10 L358.25,225.30 L358.80,222.90 L359.35,224.82 L359.90,218.56 L360.45,219.32 L361.00,227.56 L361.55,227.64 L362.10,227.54 L362.65,222.61 L363.20,229.08 L363.75,229.43 L364.30,233.23 L364.85,232.77 L365.40,234.59 L365.95,235.79 L366.50,235.10 L367.05,235.84 L367.60,234.81 L368.15,236.73 L368.70,236.00 L369.25,236.95 L369.80,236.87 L370.35,238.92 L370.90,241.72 L371.45,239.11 L372.00,239.20 L372.55,239.99 L373.10,241.77 L373.65,241.27 L374.20,243.29 L374.75,240.96 L375.30,242.03 L375.85,243.20 L376.40,244.02 L376.95,240.92 L377.50,240.32 L378.05,243.74 L378.60,240.90 L379.15,242.43 L379.70,243.63 L380.25,243.27 L380.80,241.70 L381.35,241.54 L381.90,244.74 L382.45,242.04 L383.00,243.49 L383.55,239.89 L384.10,240.76 L384.65,237.18 L385.20,235.59 L385.75,238.34 L386.30,237.88 L386.85,242.67 L387.40,244.26 L387.95,242.75 L388.50,245.13 L389.05,244.78 L389.60,242.75 L390.15,240.56 L390.70,242.43 L391.25,244.77 L391.80,244.27 L392.35,247.46 L392.90,247.60 L393.45,249.33 L394.00,251.44 L394.55,253.38 L395.10,254.30 L395.65,254.30 L396.20,254.30 L396.75,254.30 L397.30,254.30 L397.85,254.30 L398.40,254.30 L398.95,254.30 L399.50,254.30 L400.05,254.30 L400.60,254.30 L401.15,254.30 L401.70,254.30 L402.25,254.30 L402.80,254.30 L403.35,254.30 L403.90,254.30 L404.45,254.30 L405.00,254.30 L405.55,254.30 L406.10,254.30 L406.65,254.30 L407.20,254.30 L407.75,254.30 L408.30,254.30 L408.85,254.30 L409.40,254.30 L409.90,254.30 Z" fill="#ff6363"/>
<path d="M334.60,290.20 L334.60,290.20 L335.15,286.31 L335.70,286.77 L336.25,287.84 L336.80,289.54 L337.35,290.07 L337.90,289.88 L338.45,289.64 L339.00,289.38 L339.55,289.53 L340.10,289.36 L340.65,289.15 L341.20,289.17 L341.75,289.02 L342.30,289.22 L342.85,289.03 L343.40,289.06 L343.95,288.87 L344.50,288.79 L345.05,288.93 L345.60,288.11 L346.15,287.33 L346.70,285.16 L347.25,282.80 L347.80,282.01 L348.35,278.23 L348.90,279.31 L349.45,275.99 L350.00,276.92 L350.55,276.20 L351.10,269.80 L351.65,272.23 L352.20,270.82 L352.75,263.99 L353.30,263.24 L353.85,266.45 L354.40,259.46 L354.95,261.78 L355.50,259.18 L356.05,262.39 L356.60,254.30 L357.15,254.30 L357.70,254.30 L358.25,254.30 L358.80,260.84 L359.35,260.59 L359.90,262.88 L360.45,263.81 L361.00,265.37 L361.55,264.03 L362.10,262.02 L362.65,267.81 L363.20,262.92 L363.75,266.76 L364.30,268.00 L364.85,265.35 L365.40,268.58 L365.95,270.38 L366.50,269.95 L367.05,269.26 L367.60,274.18 L368.15,269.83 L368.70,276.06 L369.25,272.95 L369.80,272.90 L370.35,277.36 L370.90,274.05 L371.45,276.50 L372.00,276.03 L372.55,278.97 L373.10,279.20 L373.65,278.91 L374.20,276.13 L374.75,279.38 L375.30,277.56 L375.85,277.24 L376.40,277.54 L376.95,279.94 L377.50,280.36 L378.05,280.29 L378.60,280.04 L379.15,282.37 L379.70,280.65 L380.25,280.62 L380.80,280.55 L381.35,283.08 L381.90,281.09 L382.45,283.62 L383.00,283.39 L383.55,282.87 L384.10,282.28 L384.65,283.67 L385.20,282.25 L385.75,282.60 L386.30,282.69 L386.85,282.22 L387.40,282.13 L387.95,281.96 L388.50,281.28 L389.05,280.38 L389.60,280.38 L390.15,283.16 L390.70,283.44 L391.25,281.07 L391.80,282.22 L392.35,287.01 L392.90,290.20 L393.45,290.20 L394.00,290.20 L394.55,290.20 L395.10,290.20 L395.65,290.20 L396.20,290.20 L396.75,290.20 L397.30,290.20 L397.85,290.20 L398.40,290.20 L398.95,290.20 L399.50,290.20 L400.05,290.20 L400.60,290.20 L401.15,290.20 L401.70,290.20 L402.25,290.20 L402.80,290.20 L403.35,290.20 L403.90,290.20 L404.45,290.20 L405.00,290.20 L405.55,290.20 L406.10,290.20 L406.65,290.20 L407.20,290.20 L407.75,290.20 L408.30,290.20 L408.85,290.20 L409.40,290.20 L409.90,290.20 Z" fill="#6262ff"/>
</g>
<line x1="359.40" y1="217.50" x2="359.40" y2="290.30" stroke="#2a2a2a" stroke-width="1.35" stroke-dasharray="2.4,1.6" opacity="0.72"/>
<rect x="334.6" y="217.5" width="75.29999999999995" height="72.80000000000001" fill="none" stroke="#6a6a6a" stroke-width="0.9"/>
<line x1="334.60" y1="254.30" x2="409.90" y2="254.30" stroke="#111" stroke-width="1.0" />
<line x1="334.60" y1="290.30" x2="409.90" y2="290.30" stroke="#333" stroke-width="1.0" />
<text transform="translate(418.50,235.90) rotate(-90) scale(0.91,1)" font-size="8.6" text-anchor="middle" >SD-36</text>
<text transform="translate(418.50,271.80) rotate(-90) scale(0.91,1)" font-size="8.6" text-anchor="middle" >DMSO</text>
<text transform="translate(333.70,299.60) scale(0.91,1)" font-size="8.6" >CD80-BV650</text>
<line x1="381.00" y1="297.40" x2="406.70" y2="297.40" stroke="#222" stroke-width="0.9" />
<path d="M409.70,297.40 L405.50,295.80 L405.50,299.00 Z" fill="#222"/>
<line x1="327.20" y1="223.30" x2="327.20" y2="263.40" stroke="#222" stroke-width="0.9" />
<path d="M327.20,220.30 L325.60,224.50 L328.80,224.50 Z" fill="#222"/>
<text transform="translate(329.90,279.20) rotate(-90) scale(0.91,1)" font-size="8.6" text-anchor="middle" >Count</text>
<text transform="translate(546.50,209.40)" font-size="11.2" font-weight="bold" fill="#000" >k</text>
<g clip-path="url(#h557)">
<path d="M587.80,254.30 L587.80,254.30 L588.05,254.11 L588.44,253.84 L589.00,253.56 L589.31,253.49 L589.65,253.47 L590.03,253.46 L590.44,253.42 L590.87,253.33 L591.33,253.15 L591.80,252.85 L592.12,252.66 L592.46,252.16 L592.82,252.15 L593.19,251.63 L593.57,251.06 L593.95,251.07 L594.32,250.34 L594.69,249.79 L595.05,249.68 L595.39,248.81 L595.70,247.82 L596.15,246.86 L596.58,245.07 L596.98,244.41 L597.35,242.70 L597.71,241.39 L598.06,238.87 L598.40,236.17 L598.85,234.89 L599.27,232.02 L599.66,231.23 L600.04,227.77 L600.40,228.73 L600.83,226.10 L601.24,222.70 L601.62,221.07 L602.00,221.51 L602.45,222.00 L602.88,220.05 L603.40,220.17 L603.72,219.98 L604.08,217.40 L604.46,221.39 L604.85,218.46 L605.24,219.62 L605.60,225.17 L606.00,225.60 L606.38,227.68 L606.76,232.35 L607.16,233.72 L607.60,235.04 L607.95,239.13 L608.33,239.88 L608.73,242.83 L609.14,243.89 L609.54,245.28 L609.93,247.75 L610.30,249.20 L610.70,250.25 L611.10,250.82 L611.47,251.70 L611.84,252.13 L612.18,252.40 L612.50,252.72 L612.96,253.41 L613.39,253.82 L613.75,254.10 L614.00,254.30 L614.00,254.30 Z" fill="#ff6363"/>
<path d="M577.90,290.20 L577.90,290.20 L578.12,289.98 L578.43,289.68 L578.79,289.33 L579.19,288.94 L579.60,288.49 L580.00,287.91 L580.33,287.72 L580.67,287.39 L581.01,287.03 L581.37,286.88 L581.75,286.23 L582.16,285.54 L582.60,284.59 L582.91,284.62 L583.23,283.75 L583.57,283.27 L583.92,281.55 L584.28,280.81 L584.65,280.93 L585.02,278.43 L585.39,277.45 L585.77,277.08 L586.14,276.22 L586.50,276.37 L586.87,275.85 L587.24,273.62 L587.62,273.94 L588.01,272.63 L588.39,271.51 L588.77,271.25 L589.14,268.85 L589.51,267.99 L589.86,265.59 L590.19,265.93 L590.50,264.65 L590.94,264.06 L591.34,262.29 L591.70,262.21 L592.04,262.14 L592.38,257.89 L592.73,257.06 L593.10,257.07 L593.45,257.11 L593.82,258.54 L594.19,258.43 L594.56,257.62 L594.94,258.41 L595.30,254.50 L595.66,256.13 L596.00,254.50 L596.43,256.46 L596.83,254.50 L597.22,255.30 L597.60,260.63 L597.99,260.54 L598.40,258.24 L598.75,261.40 L599.11,260.32 L599.46,264.17 L599.83,266.80 L600.20,265.97 L600.59,266.83 L601.00,269.91 L601.33,271.46 L601.67,271.65 L602.02,270.81 L602.38,272.46 L602.75,275.15 L603.12,275.78 L603.51,277.05 L603.90,278.04 L604.30,277.49 L604.64,279.42 L605.01,279.52 L605.39,280.50 L605.78,281.65 L606.17,281.68 L606.56,283.18 L606.95,283.32 L607.32,284.53 L607.67,284.88 L608.00,285.61 L608.30,286.07 L608.78,286.43 L609.19,287.15 L609.54,287.82 L609.87,287.98 L610.18,288.52 L610.50,288.80 L611.00,289.26 L611.49,289.66 L611.91,289.98 L612.20,290.20 L612.20,290.20 Z" fill="#6262ff"/>
</g>
<line x1="603.60" y1="217.50" x2="603.60" y2="290.30" stroke="#2a2a2a" stroke-width="1.35" stroke-dasharray="2.4,1.6" opacity="0.72"/>
<rect x="557.0" y="217.5" width="73.5" height="72.80000000000001" fill="none" stroke="#6a6a6a" stroke-width="0.9"/>
<line x1="557.00" y1="254.30" x2="630.50" y2="254.30" stroke="#111" stroke-width="1.0" />
<line x1="557.00" y1="290.30" x2="630.50" y2="290.30" stroke="#333" stroke-width="1.0" />
<text transform="translate(639.90,235.90) rotate(-90) scale(0.91,1)" font-size="8.6" text-anchor="middle" >SD-36</text>
<text transform="translate(639.90,271.80) rotate(-90) scale(0.91,1)" font-size="8.6" text-anchor="middle" >DMSO</text>
<text transform="translate(557.00,299.60) scale(0.91,1)" font-size="8.6" >CD86-PE</text>
<line x1="596.40" y1="297.40" x2="627.80" y2="297.40" stroke="#222" stroke-width="0.9" />
<path d="M630.80,297.40 L626.60,295.80 L626.60,299.00 Z" fill="#222"/>
<line x1="550.50" y1="223.30" x2="550.50" y2="263.40" stroke="#222" stroke-width="0.9" />
<path d="M550.50,220.30 L548.90,224.50 L552.10,224.50 Z" fill="#222"/>
<text transform="translate(553.20,279.20) rotate(-90) scale(0.91,1)" font-size="8.6" text-anchor="middle" >Count</text>
<text transform="translate(-0.20,209.30)" font-size="11.2" font-weight="bold" fill="#000" >f</text>
<line x1="42.60" y1="215.00" x2="42.60" y2="284.20" stroke="#6c6c6c" stroke-width="1.0" />
<line x1="38.30" y1="284.20" x2="42.60" y2="284.20" stroke="#6c6c6c" stroke-width="1.0" />
<text transform="translate(35.30,286.95) scale(0.91,1)" font-size="8.6" text-anchor="end" >0</text>
<line x1="38.30" y1="266.90" x2="42.60" y2="266.90" stroke="#6c6c6c" stroke-width="1.0" />
<text transform="translate(35.30,269.65) scale(0.91,1)" font-size="8.6" text-anchor="end" >2</text>
<line x1="38.30" y1="249.60" x2="42.60" y2="249.60" stroke="#6c6c6c" stroke-width="1.0" />
<text transform="translate(35.30,252.35) scale(0.91,1)" font-size="8.6" text-anchor="end" >4</text>
<line x1="38.30" y1="232.30" x2="42.60" y2="232.30" stroke="#6c6c6c" stroke-width="1.0" />
<text transform="translate(35.30,235.05) scale(0.91,1)" font-size="8.6" text-anchor="end" >6</text>
<line x1="38.30" y1="215.00" x2="42.60" y2="215.00" stroke="#6c6c6c" stroke-width="1.0" />
<text transform="translate(35.30,217.75) scale(0.91,1)" font-size="8.6" text-anchor="end" >8</text>
<rect x="47.30" y="249.17" width="10.50" height="35.03" fill="#c6dbf5"/>
<path d="M47.30,284.20 V249.17 H57.80 V284.20" fill="none" stroke="#3232e0" stroke-width="1.0"/>
<line x1="52.55" y1="251.76" x2="52.55" y2="246.57" stroke="#0a0ad2" stroke-width="1.0" />
<line x1="50.25" y1="246.57" x2="54.85" y2="246.57" stroke="#0a0ad2" stroke-width="1.0" />
<line x1="50.25" y1="251.76" x2="54.85" y2="251.76" stroke="#0a0ad2" stroke-width="1.0" />
<circle cx="48.80" cy="245.80" r="1.75" fill="#0a0ad2"/>
<circle cx="52.30" cy="247.90" r="1.75" fill="#0a0ad2"/>
<circle cx="56.10" cy="247.00" r="1.75" fill="#0a0ad2"/>
<circle cx="52.30" cy="254.60" r="1.75" fill="#0a0ad2"/>
<rect x="62.10" y="234.89" width="10.50" height="49.31" fill="#fde0e0"/>
<path d="M62.10,284.20 V234.89 H72.60 V284.20" fill="none" stroke="#ff4040" stroke-width="1.0"/>
<line x1="67.35" y1="237.49" x2="67.35" y2="232.30" stroke="#ff1414" stroke-width="1.0" />
<line x1="65.05" y1="232.30" x2="69.65" y2="232.30" stroke="#ff1414" stroke-width="1.0" />
<line x1="65.05" y1="237.49" x2="69.65" y2="237.49" stroke="#ff1414" stroke-width="1.0" />
<circle cx="64.00" cy="233.90" r="1.75" fill="#ff1414"/>
<circle cx="71.30" cy="231.50" r="1.75" fill="#ff1414"/>
<circle cx="64.00" cy="238.30" r="1.75" fill="#ff1414"/>
<circle cx="71.30" cy="237.10" r="1.75" fill="#ff1414"/>
<line x1="38.30" y1="284.20" x2="77.70" y2="284.20" stroke="#6c6c6c" stroke-width="1.0" />
<line x1="52.40" y1="284.20" x2="52.40" y2="288.00" stroke="#6c6c6c" stroke-width="1.0" />
<text transform="translate(55.40,295.30) rotate(-45) scale(0.91,1)" font-size="8.6" text-anchor="end" >DMSO</text>
<line x1="67.50" y1="284.20" x2="67.50" y2="288.00" stroke="#6c6c6c" stroke-width="1.0" />
<text transform="translate(70.50,295.30) rotate(-45) scale(0.91,1)" font-size="8.6" text-anchor="end" >SD-36</text>
<text transform="translate(23.60,249.70) rotate(-90) scale(0.91,1)" font-size="8.6" text-anchor="middle" >MHCI MFI (×10<tspan font-size="6" dy="-3.4">3</tspan><tspan dy="3.4">)</tspan></text>
<text transform="translate(68.80,229.00) scale(0.91,1)" font-size="9" text-anchor="middle" fill="#111" style="stroke-width:0.3px;stroke:#111">**</text>
<text transform="translate(229.80,209.30)" font-size="11.2" font-weight="bold" fill="#000" >h</text>
<line x1="260.60" y1="215.00" x2="260.60" y2="284.20" stroke="#6c6c6c" stroke-width="1.0" />
<line x1="256.30" y1="284.20" x2="260.60" y2="284.20" stroke="#6c6c6c" stroke-width="1.0" />
<text transform="translate(253.30,286.95) scale(0.91,1)" font-size="8.6" text-anchor="end" >0</text>
<line x1="256.30" y1="270.36" x2="260.60" y2="270.36" stroke="#6c6c6c" stroke-width="1.0" />
<text transform="translate(253.30,273.11) scale(0.91,1)" font-size="8.6" text-anchor="end" >5</text>
<line x1="256.30" y1="256.52" x2="260.60" y2="256.52" stroke="#6c6c6c" stroke-width="1.0" />
<text transform="translate(253.30,259.27) scale(0.91,1)" font-size="8.6" text-anchor="end" >10</text>
<line x1="256.30" y1="242.68" x2="260.60" y2="242.68" stroke="#6c6c6c" stroke-width="1.0" />
<text transform="translate(253.30,245.43) scale(0.91,1)" font-size="8.6" text-anchor="end" >15</text>
<line x1="256.30" y1="228.84" x2="260.60" y2="228.84" stroke="#6c6c6c" stroke-width="1.0" />
<text transform="translate(253.30,231.59) scale(0.91,1)" font-size="8.6" text-anchor="end" >20</text>
<line x1="256.30" y1="215.00" x2="260.60" y2="215.00" stroke="#6c6c6c" stroke-width="1.0" />
<text transform="translate(253.30,217.75) scale(0.91,1)" font-size="8.6" text-anchor="end" >25</text>
<rect x="265.30" y="240.47" width="10.30" height="43.73" fill="#c6dbf5"/>
<path d="M265.30,284.20 V240.47 H275.60 V284.20" fill="none" stroke="#3232e0" stroke-width="1.0"/>
<line x1="270.45" y1="243.51" x2="270.45" y2="237.14" stroke="#0a0ad2" stroke-width="1.0" />
<line x1="268.15" y1="237.14" x2="272.75" y2="237.14" stroke="#0a0ad2" stroke-width="1.0" />
<line x1="268.15" y1="243.51" x2="272.75" y2="243.51" stroke="#0a0ad2" stroke-width="1.0" />
<circle cx="267.00" cy="236.40" r="1.75" fill="#0a0ad2"/>
<circle cx="274.00" cy="234.80" r="1.75" fill="#0a0ad2"/>
<circle cx="270.60" cy="240.30" r="1.75" fill="#0a0ad2"/>
<circle cx="270.60" cy="249.30" r="1.75" fill="#0a0ad2"/>
<rect x="280.20" y="225.24" width="10.60" height="58.96" fill="#fde0e0"/>
<path d="M280.20,284.20 V225.24 H290.80 V284.20" fill="none" stroke="#ff4040" stroke-width="1.0"/>
<line x1="285.50" y1="228.84" x2="285.50" y2="221.37" stroke="#ff1414" stroke-width="1.0" />
<line x1="283.20" y1="221.37" x2="287.80" y2="221.37" stroke="#ff1414" stroke-width="1.0" />
<line x1="283.20" y1="228.84" x2="287.80" y2="228.84" stroke="#ff1414" stroke-width="1.0" />
<circle cx="282.20" cy="220.80" r="1.75" fill="#ff1414"/>
<circle cx="289.20" cy="218.10" r="1.75" fill="#ff1414"/>
<circle cx="285.50" cy="228.00" r="1.75" fill="#ff1414"/>
<circle cx="285.50" cy="234.80" r="1.75" fill="#ff1414"/>
<line x1="256.30" y1="284.20" x2="296.00" y2="284.20" stroke="#6c6c6c" stroke-width="1.0" />
<line x1="270.40" y1="284.20" x2="270.40" y2="288.00" stroke="#6c6c6c" stroke-width="1.0" />
<text transform="translate(273.40,295.30) rotate(-45) scale(0.91,1)" font-size="8.6" text-anchor="end" >DMSO</text>
<line x1="285.50" y1="284.20" x2="285.50" y2="288.00" stroke="#6c6c6c" stroke-width="1.0" />
<text transform="translate(288.50,295.30) rotate(-45) scale(0.91,1)" font-size="8.6" text-anchor="end" >SD-36</text>
<text transform="translate(237.00,250.70) rotate(-90) scale(0.91,1)" font-size="8.6" text-anchor="middle" >MHCII MFI (×10<tspan font-size="6" dy="-3.4">3</tspan><tspan dy="3.4">)</tspan></text>
<text transform="translate(285.50,215.70) scale(0.91,1)" font-size="9" text-anchor="middle" fill="#111" style="stroke-width:0.3px;stroke:#111">*</text>
<text transform="translate(450.60,209.30)" font-size="11.2" font-weight="bold" fill="#000" >j</text>
<line x1="477.60" y1="215.00" x2="477.60" y2="284.20" stroke="#6c6c6c" stroke-width="1.0" />
<line x1="473.30" y1="284.20" x2="477.60" y2="284.20" stroke="#6c6c6c" stroke-width="1.0" />
<text transform="translate(470.30,286.95) scale(0.91,1)" font-size="8.6" text-anchor="end" >0</text>
<line x1="473.30" y1="266.90" x2="477.60" y2="266.90" stroke="#6c6c6c" stroke-width="1.0" />
<text transform="translate(470.30,269.65) scale(0.91,1)" font-size="8.6" text-anchor="end" >2</text>
<line x1="473.30" y1="249.60" x2="477.60" y2="249.60" stroke="#6c6c6c" stroke-width="1.0" />
<text transform="translate(470.30,252.35) scale(0.91,1)" font-size="8.6" text-anchor="end" >4</text>
<line x1="473.30" y1="232.30" x2="477.60" y2="232.30" stroke="#6c6c6c" stroke-width="1.0" />
<text transform="translate(470.30,235.05) scale(0.91,1)" font-size="8.6" text-anchor="end" >6</text>
<line x1="473.30" y1="215.00" x2="477.60" y2="215.00" stroke="#6c6c6c" stroke-width="1.0" />
<text transform="translate(470.30,217.75) scale(0.91,1)" font-size="8.6" text-anchor="end" >8</text>
<rect x="483.00" y="258.68" width="9.80" height="25.52" fill="#c6dbf5"/>
<path d="M483.00,284.20 V258.68 H492.80 V284.20" fill="none" stroke="#3232e0" stroke-width="1.0"/>
<line x1="487.90" y1="262.14" x2="487.90" y2="255.22" stroke="#0a0ad2" stroke-width="1.0" />
<line x1="485.60" y1="255.22" x2="490.20" y2="255.22" stroke="#0a0ad2" stroke-width="1.0" />
<line x1="485.60" y1="262.14" x2="490.20" y2="262.14" stroke="#0a0ad2" stroke-width="1.0" />
<circle cx="487.70" cy="252.80" r="1.75" fill="#0a0ad2"/>
<circle cx="487.70" cy="256.40" r="1.75" fill="#0a0ad2"/>
<circle cx="484.10" cy="263.40" r="1.75" fill="#0a0ad2"/>
<circle cx="491.40" cy="262.00" r="1.75" fill="#0a0ad2"/>
<rect x="498.40" y="243.11" width="9.60" height="41.09" fill="#fde0e0"/>
<path d="M498.40,284.20 V243.11 H508.00 V284.20" fill="none" stroke="#ff4040" stroke-width="1.0"/>
<line x1="503.20" y1="248.30" x2="503.20" y2="238.35" stroke="#ff1414" stroke-width="1.0" />
<line x1="500.90" y1="238.35" x2="505.50" y2="238.35" stroke="#ff1414" stroke-width="1.0" />
<line x1="500.90" y1="248.30" x2="505.50" y2="248.30" stroke="#ff1414" stroke-width="1.0" />
<circle cx="503.10" cy="233.30" r="1.75" fill="#ff1414"/>
<circle cx="503.10" cy="238.30" r="1.75" fill="#ff1414"/>
<circle cx="503.10" cy="247.40" r="1.75" fill="#ff1414"/>
<circle cx="503.10" cy="253.80" r="1.75" fill="#ff1414"/>
<line x1="473.30" y1="284.20" x2="513.80" y2="284.20" stroke="#6c6c6c" stroke-width="1.0" />
<line x1="487.70" y1="284.20" x2="487.70" y2="288.00" stroke="#6c6c6c" stroke-width="1.0" />
<text transform="translate(490.70,295.30) rotate(-45) scale(0.91,1)" font-size="8.6" text-anchor="end" >DMSO</text>
<line x1="503.10" y1="284.20" x2="503.10" y2="288.00" stroke="#6c6c6c" stroke-width="1.0" />
<text transform="translate(506.10,295.30) rotate(-45) scale(0.91,1)" font-size="8.6" text-anchor="end" >SD-36</text>
<text transform="translate(456.60,249.20) rotate(-90) scale(0.91,1)" font-size="8.6" text-anchor="middle" >CD80 MFI (×10<tspan font-size="6" dy="-3.4">3</tspan><tspan dy="3.4">)</tspan></text>
<text transform="translate(503.30,228.90) scale(0.91,1)" font-size="9" text-anchor="middle" fill="#111" style="stroke-width:0.3px;stroke:#111">*</text>
<text transform="translate(-0.60,327.20)" font-size="11.2" font-weight="bold" fill="#000" >l</text>
<line x1="39.70" y1="334.30" x2="39.70" y2="403.40" stroke="#6c6c6c" stroke-width="1.0" />
<line x1="35.40" y1="403.40" x2="39.70" y2="403.40" stroke="#6c6c6c" stroke-width="1.0" />
<text transform="translate(32.40,406.15) scale(0.91,1)" font-size="8.6" text-anchor="end" >0</text>
<line x1="35.40" y1="380.40" x2="39.70" y2="380.40" stroke="#6c6c6c" stroke-width="1.0" />
<text transform="translate(32.40,383.15) scale(0.91,1)" font-size="8.6" text-anchor="end" >5</text>
<line x1="35.40" y1="357.40" x2="39.70" y2="357.40" stroke="#6c6c6c" stroke-width="1.0" />
<text transform="translate(32.40,360.15) scale(0.91,1)" font-size="8.6" text-anchor="end" >10</text>
<line x1="35.40" y1="334.40" x2="39.70" y2="334.40" stroke="#6c6c6c" stroke-width="1.0" />
<text transform="translate(32.40,337.15) scale(0.91,1)" font-size="8.6" text-anchor="end" >15</text>
<rect x="44.40" y="383.62" width="9.90" height="19.78" fill="#c6dbf5"/>
<path d="M44.40,403.40 V383.62 H54.30 V403.40" fill="none" stroke="#3232e0" stroke-width="1.0"/>
<line x1="49.35" y1="384.08" x2="49.35" y2="383.16" stroke="#0a0ad2" stroke-width="1.0" />
<line x1="47.05" y1="383.16" x2="51.65" y2="383.16" stroke="#0a0ad2" stroke-width="1.0" />
<line x1="47.05" y1="384.08" x2="51.65" y2="384.08" stroke="#0a0ad2" stroke-width="1.0" />
<circle cx="46.20" cy="383.20" r="1.75" fill="#0a0ad2"/>
<circle cx="48.60" cy="382.20" r="1.75" fill="#0a0ad2"/>
<circle cx="50.80" cy="383.60" r="1.75" fill="#0a0ad2"/>
<circle cx="53.00" cy="382.60" r="1.75" fill="#0a0ad2"/>
<rect x="59.80" y="367.52" width="10.00" height="35.88" fill="#fde0e0"/>
<path d="M59.80,403.40 V367.52 H69.80 V403.40" fill="none" stroke="#ff4040" stroke-width="1.0"/>
<line x1="64.80" y1="372.58" x2="64.80" y2="362.00" stroke="#ff1414" stroke-width="1.0" />
<line x1="62.50" y1="362.00" x2="67.10" y2="362.00" stroke="#ff1414" stroke-width="1.0" />
<line x1="62.50" y1="372.58" x2="67.10" y2="372.58" stroke="#ff1414" stroke-width="1.0" />
<circle cx="64.60" cy="357.70" r="1.75" fill="#ff1414"/>
<circle cx="60.70" cy="363.00" r="1.75" fill="#ff1414"/>
<circle cx="68.30" cy="364.40" r="1.75" fill="#ff1414"/>
<circle cx="64.60" cy="383.80" r="1.75" fill="#ff1414"/>
<line x1="35.40" y1="403.40" x2="74.70" y2="403.40" stroke="#6c6c6c" stroke-width="1.0" />
<line x1="49.40" y1="403.40" x2="49.40" y2="407.20" stroke="#6c6c6c" stroke-width="1.0" />
<text transform="translate(52.40,414.50) rotate(-45) scale(0.91,1)" font-size="8.6" text-anchor="end" >DMSO</text>
<line x1="64.20" y1="403.40" x2="64.20" y2="407.20" stroke="#6c6c6c" stroke-width="1.0" />
<text transform="translate(67.20,414.50) rotate(-45) scale(0.91,1)" font-size="8.6" text-anchor="end" >SD-36</text>
<text transform="translate(15.80,369.00) rotate(-90) scale(0.91,1)" font-size="8.6" text-anchor="middle" >CD86 MFI (×10<tspan font-size="6" dy="-3.4">3</tspan><tspan dy="3.4">)</tspan></text>
<text transform="translate(64.60,353.10) scale(0.91,1)" font-size="9" text-anchor="middle" fill="#111" style="stroke-width:0.3px;stroke:#111">*</text>
<text transform="translate(98.00,327.10)" font-size="11.2" font-weight="bold" fill="#000" >m</text>
<line x1="132.20" y1="333.50" x2="132.20" y2="422.20" stroke="#6c6c6c" stroke-width="1.0" />
<line x1="128.20" y1="422.20" x2="132.20" y2="422.20" stroke="#6c6c6c" stroke-width="1.0" />
<text transform="translate(125.40,424.95) scale(0.91,1)" font-size="8.6" text-anchor="end" >0</text>
<line x1="128.20" y1="404.46" x2="132.20" y2="404.46" stroke="#6c6c6c" stroke-width="1.0" />
<text transform="translate(125.40,407.21) scale(0.91,1)" font-size="8.6" text-anchor="end" >100</text>
<line x1="128.20" y1="386.72" x2="132.20" y2="386.72" stroke="#6c6c6c" stroke-width="1.0" />
<text transform="translate(125.40,389.47) scale(0.91,1)" font-size="8.6" text-anchor="end" >200</text>
<line x1="128.20" y1="368.98" x2="132.20" y2="368.98" stroke="#6c6c6c" stroke-width="1.0" />
<text transform="translate(125.40,371.73) scale(0.91,1)" font-size="8.6" text-anchor="end" >300</text>
<line x1="128.20" y1="351.24" x2="132.20" y2="351.24" stroke="#6c6c6c" stroke-width="1.0" />
<text transform="translate(125.40,353.99) scale(0.91,1)" font-size="8.6" text-anchor="end" >400</text>
<line x1="128.20" y1="333.50" x2="132.20" y2="333.50" stroke="#6c6c6c" stroke-width="1.0" />
<text transform="translate(125.40,336.25) scale(0.91,1)" font-size="8.6" text-anchor="end" >500</text>
<line x1="128.40" y1="422.20" x2="221.30" y2="422.20" stroke="#6c6c6c" stroke-width="1.0" />
<line x1="139.50" y1="422.20" x2="139.50" y2="425.80" stroke="#6c6c6c" stroke-width="1.0" />
<text transform="translate(139.50,434.50) scale(0.91,1)" font-size="8.6" text-anchor="middle" >0</text>
<line x1="150.17" y1="422.20" x2="150.17" y2="425.80" stroke="#6c6c6c" stroke-width="1.0" />
<text transform="translate(150.17,434.50) scale(0.91,1)" font-size="8.6" text-anchor="middle" >6</text>
<line x1="160.84" y1="422.20" x2="160.84" y2="425.80" stroke="#6c6c6c" stroke-width="1.0" />
<text transform="translate(160.84,434.50) scale(0.91,1)" font-size="8.6" text-anchor="middle" >9</text>
<line x1="171.51" y1="422.20" x2="171.51" y2="425.80" stroke="#6c6c6c" stroke-width="1.0" />
<text transform="translate(171.51,434.50) scale(0.91,1)" font-size="8.6" text-anchor="middle" >12</text>
<line x1="182.18" y1="422.20" x2="182.18" y2="425.80" stroke="#6c6c6c" stroke-width="1.0" />
<text transform="translate(182.18,434.50) scale(0.91,1)" font-size="8.6" text-anchor="middle" >15</text>
<line x1="192.85" y1="422.20" x2="192.85" y2="425.80" stroke="#6c6c6c" stroke-width="1.0" />
<text transform="translate(192.85,434.50) scale(0.91,1)" font-size="8.6" text-anchor="middle" >18</text>
<line x1="203.52" y1="422.20" x2="203.52" y2="425.80" stroke="#6c6c6c" stroke-width="1.0" />
<text transform="translate(203.52,434.50) scale(0.91,1)" font-size="8.6" text-anchor="middle" >21</text>
<line x1="214.19" y1="422.20" x2="214.19" y2="425.80" stroke="#6c6c6c" stroke-width="1.0" />
<text transform="translate(214.19,434.50) scale(0.91,1)" font-size="8.6" text-anchor="middle" >24</text>
<line x1="203.52" y1="399.14" x2="203.52" y2="396.30" stroke="#ff3030" stroke-width="1.0" />
<line x1="201.52" y1="396.30" x2="205.52" y2="396.30" stroke="#ff3030" stroke-width="1.0" />
<line x1="214.19" y1="384.95" x2="214.19" y2="379.98" stroke="#ff3030" stroke-width="1.0" />
<line x1="212.19" y1="379.98" x2="216.19" y2="379.98" stroke="#ff3030" stroke-width="1.0" />
<path d="M139.50,422.20 L150.17,417.41 L160.84,416.52 L171.51,414.39 L182.18,411.20 L192.85,407.12 L203.52,399.14 L214.19,384.95" fill="none" stroke="#ff3030" stroke-width="1.0"/>
<circle cx="139.50" cy="422.20" r="1.95" fill="#ff0a0a"/>
<circle cx="150.17" cy="417.41" r="1.95" fill="#ff0a0a"/>
<circle cx="160.84" cy="416.52" r="1.95" fill="#ff0a0a"/>
<circle cx="171.51" cy="414.39" r="1.95" fill="#ff0a0a"/>
<circle cx="182.18" cy="411.20" r="1.95" fill="#ff0a0a"/>
<circle cx="192.85" cy="407.12" r="1.95" fill="#ff0a0a"/>
<circle cx="203.52" cy="399.14" r="1.95" fill="#ff0a0a"/>
<circle cx="214.19" cy="384.95" r="1.95" fill="#ff0a0a"/>
<line x1="182.18" y1="401.62" x2="182.18" y2="399.85" stroke="#3434e8" stroke-width="1.0" />
<line x1="180.18" y1="399.85" x2="184.18" y2="399.85" stroke="#3434e8" stroke-width="1.0" />
<line x1="192.85" y1="392.57" x2="192.85" y2="387.61" stroke="#3434e8" stroke-width="1.0" />
<line x1="190.85" y1="387.61" x2="194.85" y2="387.61" stroke="#3434e8" stroke-width="1.0" />
<line x1="203.52" y1="378.03" x2="203.52" y2="369.69" stroke="#3434e8" stroke-width="1.0" />
<line x1="201.52" y1="369.69" x2="205.52" y2="369.69" stroke="#3434e8" stroke-width="1.0" />
<line x1="214.19" y1="350.71" x2="214.19" y2="339.00" stroke="#3434e8" stroke-width="1.0" />
<line x1="212.19" y1="339.00" x2="216.19" y2="339.00" stroke="#3434e8" stroke-width="1.0" />
<path d="M139.50,422.20 L150.17,417.41 L160.84,414.04 L171.51,409.96 L182.18,401.62 L192.85,392.57 L203.52,378.03 L214.19,350.71" fill="none" stroke="#3434e8" stroke-width="1.0"/>
<circle cx="139.50" cy="422.20" r="1.95" fill="#0606cc"/>
<circle cx="150.17" cy="417.41" r="1.95" fill="#0606cc"/>
<circle cx="160.84" cy="414.04" r="1.95" fill="#0606cc"/>
<circle cx="171.51" cy="409.96" r="1.95" fill="#0606cc"/>
<circle cx="182.18" cy="401.62" r="1.95" fill="#0606cc"/>
<circle cx="192.85" cy="392.57" r="1.95" fill="#0606cc"/>
<circle cx="203.52" cy="378.03" r="1.95" fill="#0606cc"/>
<circle cx="214.19" cy="350.71" r="1.95" fill="#0606cc"/>
<text transform="translate(103.60,377.40) rotate(-90) scale(0.91,1)" font-size="8.6" text-anchor="middle" >Tumour volume (mm<tspan font-size="6" dy="-3.4">3</tspan><tspan dy="3.4">)</tspan></text>
<text transform="translate(177.00,446.00) scale(0.91,1)" font-size="8.6" text-anchor="middle" >Time (days)</text>
<text transform="translate(214.00,339.50) scale(0.91,1)" font-size="9" text-anchor="middle" fill="#111" style="stroke-width:0.3px;stroke:#111">****</text>
<line x1="134.20" y1="336.90" x2="145.30" y2="336.90" stroke="#9a9af5" stroke-width="1.5" />
<circle cx="139.75" cy="336.90" r="1.95" fill="#0a0ad2"/>
<text transform="translate(148.80,339.60) scale(0.91,1)" font-size="8.6" >Vehicle</text>
<line x1="134.20" y1="350.50" x2="145.30" y2="350.50" stroke="#ff3030" stroke-width="1.2" />
<circle cx="139.75" cy="350.50" r="1.95" fill="#ff1010"/>
<text transform="translate(148.80,353.20) scale(0.91,1)" font-size="8.6" >SD-36</text>
<text transform="translate(240.00,327.10)" font-size="11.2" font-weight="bold" fill="#000" >n</text>
<line x1="280.60" y1="333.50" x2="280.60" y2="421.80" stroke="#6c6c6c" stroke-width="1.0" />
<line x1="276.60" y1="421.80" x2="280.60" y2="421.80" stroke="#6c6c6c" stroke-width="1.0" />
<text transform="translate(273.80,424.55) scale(0.91,1)" font-size="8.6" text-anchor="end" >0</text>
<line x1="276.60" y1="404.14" x2="280.60" y2="404.14" stroke="#6c6c6c" stroke-width="1.0" />
<text transform="translate(273.80,406.89) scale(0.91,1)" font-size="8.6" text-anchor="end" >500</text>
<line x1="276.60" y1="386.48" x2="280.60" y2="386.48" stroke="#6c6c6c" stroke-width="1.0" />
<text transform="translate(273.80,389.23) scale(0.91,1)" font-size="8.6" text-anchor="end" >1,000</text>
<line x1="276.60" y1="368.82" x2="280.60" y2="368.82" stroke="#6c6c6c" stroke-width="1.0" />
<text transform="translate(273.80,371.57) scale(0.91,1)" font-size="8.6" text-anchor="end" >1,500</text>
<line x1="276.60" y1="351.16" x2="280.60" y2="351.16" stroke="#6c6c6c" stroke-width="1.0" />
<text transform="translate(273.80,353.91) scale(0.91,1)" font-size="8.6" text-anchor="end" >2,000</text>
<line x1="276.60" y1="333.50" x2="280.60" y2="333.50" stroke="#6c6c6c" stroke-width="1.0" />
<text transform="translate(273.80,336.25) scale(0.91,1)" font-size="8.6" text-anchor="end" >2,500</text>
<line x1="276.40" y1="421.80" x2="399.00" y2="421.80" stroke="#6c6c6c" stroke-width="1.0" />
<line x1="287.30" y1="421.80" x2="287.30" y2="425.40" stroke="#6c6c6c" stroke-width="1.0" />
<text transform="translate(287.30,434.10) scale(0.91,1)" font-size="8.6" text-anchor="middle" >0</text>
<line x1="297.79" y1="421.80" x2="297.79" y2="425.40" stroke="#6c6c6c" stroke-width="1.0" />
<text transform="translate(297.79,434.10) scale(0.91,1)" font-size="8.6" text-anchor="middle" >6</text>
<line x1="308.28" y1="421.80" x2="308.28" y2="425.40" stroke="#6c6c6c" stroke-width="1.0" />
<text transform="translate(308.28,434.10) scale(0.91,1)" font-size="8.6" text-anchor="middle" >9</text>
<line x1="318.77" y1="421.80" x2="318.77" y2="425.40" stroke="#6c6c6c" stroke-width="1.0" />
<text transform="translate(318.77,434.10) scale(0.91,1)" font-size="8.6" text-anchor="middle" >12</text>
<line x1="329.26" y1="421.80" x2="329.26" y2="425.40" stroke="#6c6c6c" stroke-width="1.0" />
<text transform="translate(329.26,434.10) scale(0.91,1)" font-size="8.6" text-anchor="middle" >15</text>
<line x1="339.75" y1="421.80" x2="339.75" y2="425.40" stroke="#6c6c6c" stroke-width="1.0" />
<text transform="translate(339.75,434.10) scale(0.91,1)" font-size="8.6" text-anchor="middle" >18</text>
<line x1="350.24" y1="421.80" x2="350.24" y2="425.40" stroke="#6c6c6c" stroke-width="1.0" />
<text transform="translate(350.24,434.10) scale(0.91,1)" font-size="8.6" text-anchor="middle" >21</text>
<line x1="360.73" y1="421.80" x2="360.73" y2="425.40" stroke="#6c6c6c" stroke-width="1.0" />
<text transform="translate(360.73,434.10) scale(0.91,1)" font-size="8.6" text-anchor="middle" >24</text>
<line x1="371.22" y1="421.80" x2="371.22" y2="425.40" stroke="#6c6c6c" stroke-width="1.0" />
<text transform="translate(371.22,434.10) scale(0.91,1)" font-size="8.6" text-anchor="middle" >27</text>
<line x1="381.71" y1="421.80" x2="381.71" y2="425.40" stroke="#6c6c6c" stroke-width="1.0" />
<text transform="translate(381.71,434.10) scale(0.91,1)" font-size="8.6" text-anchor="middle" >30</text>
<line x1="392.20" y1="421.80" x2="392.20" y2="425.40" stroke="#6c6c6c" stroke-width="1.0" />
<text transform="translate(392.20,434.10) scale(0.91,1)" font-size="8.6" text-anchor="middle" >33</text>
<line x1="381.71" y1="407.53" x2="381.71" y2="404.74" stroke="#ff3030" stroke-width="1.0" />
<line x1="379.71" y1="404.74" x2="383.71" y2="404.74" stroke="#ff3030" stroke-width="1.0" />
<line x1="392.20" y1="403.15" x2="392.20" y2="398.67" stroke="#ff3030" stroke-width="1.0" />
<line x1="390.20" y1="398.67" x2="394.20" y2="398.67" stroke="#ff3030" stroke-width="1.0" />
<path d="M287.30,421.80 L297.79,418.80 L308.28,418.52 L318.77,418.27 L329.26,418.27 L339.75,418.02 L350.24,416.43 L360.73,413.82 L371.22,412.93 L381.71,407.53 L392.20,403.15" fill="none" stroke="#ff3030" stroke-width="1.0"/>
<circle cx="287.30" cy="421.80" r="1.95" fill="#ff0a0a"/>
<circle cx="297.79" cy="418.80" r="1.95" fill="#ff0a0a"/>
<circle cx="308.28" cy="418.52" r="1.95" fill="#ff0a0a"/>
<circle cx="318.77" cy="418.27" r="1.95" fill="#ff0a0a"/>
<circle cx="329.26" cy="418.27" r="1.95" fill="#ff0a0a"/>
<circle cx="339.75" cy="418.02" r="1.95" fill="#ff0a0a"/>
<circle cx="350.24" cy="416.43" r="1.95" fill="#ff0a0a"/>
<circle cx="360.73" cy="413.82" r="1.95" fill="#ff0a0a"/>
<circle cx="371.22" cy="412.93" r="1.95" fill="#ff0a0a"/>
<circle cx="381.71" cy="407.53" r="1.95" fill="#ff0a0a"/>
<circle cx="392.20" cy="403.15" r="1.95" fill="#ff0a0a"/>
<line x1="350.24" y1="411.20" x2="350.24" y2="410.14" stroke="#3434e8" stroke-width="1.0" />
<line x1="348.24" y1="410.14" x2="352.24" y2="410.14" stroke="#3434e8" stroke-width="1.0" />
<line x1="360.73" y1="402.06" x2="360.73" y2="399.55" stroke="#3434e8" stroke-width="1.0" />
<line x1="358.73" y1="399.55" x2="362.73" y2="399.55" stroke="#3434e8" stroke-width="1.0" />
<line x1="371.22" y1="392.48" x2="371.22" y2="387.57" stroke="#3434e8" stroke-width="1.0" />
<line x1="369.22" y1="387.57" x2="373.22" y2="387.57" stroke="#3434e8" stroke-width="1.0" />
<line x1="381.71" y1="373.80" x2="381.71" y2="365.82" stroke="#3434e8" stroke-width="1.0" />
<line x1="379.71" y1="365.82" x2="383.71" y2="365.82" stroke="#3434e8" stroke-width="1.0" />
<line x1="392.20" y1="349.18" x2="392.20" y2="339.19" stroke="#3434e8" stroke-width="1.0" />
<line x1="390.20" y1="339.19" x2="394.20" y2="339.19" stroke="#3434e8" stroke-width="1.0" />
<path d="M287.30,421.80 L297.79,418.80 L308.28,417.42 L318.77,416.43 L329.26,415.02 L339.75,413.61 L350.24,411.20 L360.73,402.06 L371.22,392.48 L381.71,373.80 L392.20,349.18" fill="none" stroke="#3434e8" stroke-width="1.0"/>
<circle cx="287.30" cy="421.80" r="1.95" fill="#0606cc"/>
<circle cx="297.79" cy="418.80" r="1.95" fill="#0606cc"/>
<circle cx="308.28" cy="417.42" r="1.95" fill="#0606cc"/>
<circle cx="318.77" cy="416.43" r="1.95" fill="#0606cc"/>
<circle cx="329.26" cy="415.02" r="1.95" fill="#0606cc"/>
<circle cx="339.75" cy="413.61" r="1.95" fill="#0606cc"/>
<circle cx="350.24" cy="411.20" r="1.95" fill="#0606cc"/>
<circle cx="360.73" cy="402.06" r="1.95" fill="#0606cc"/>
<circle cx="371.22" cy="392.48" r="1.95" fill="#0606cc"/>
<circle cx="381.71" cy="373.80" r="1.95" fill="#0606cc"/>
<circle cx="392.20" cy="349.18" r="1.95" fill="#0606cc"/>
<text transform="translate(245.40,377.40) rotate(-90) scale(0.91,1)" font-size="8.6" text-anchor="middle" >Tumour volume (mm<tspan font-size="6" dy="-3.4">3</tspan><tspan dy="3.4">)</tspan></text>
<text transform="translate(339.40,446.60) scale(0.91,1)" font-size="8.6" text-anchor="middle" >Time (days)</text>
<text transform="translate(392.30,338.30) scale(0.91,1)" font-size="9" text-anchor="middle" fill="#111" style="stroke-width:0.3px;stroke:#111">****</text>
<line x1="282.30" y1="336.90" x2="293.30" y2="336.90" stroke="#9a9af5" stroke-width="1.5" />
<circle cx="287.80" cy="336.90" r="1.95" fill="#0a0ad2"/>
<text transform="translate(297.00,339.60) scale(0.91,1)" font-size="8.6" >Vehicle</text>
<line x1="282.30" y1="350.50" x2="293.30" y2="350.50" stroke="#ff3030" stroke-width="1.2" />
<circle cx="287.80" cy="350.50" r="1.95" fill="#ff1010"/>
<text transform="translate(297.00,353.20) scale(0.91,1)" font-size="8.6" >SD-36</text>
<text transform="translate(417.30,327.30)" font-size="11.2" font-weight="bold" fill="#000" >o</text>
<line x1="444.50" y1="332.50" x2="444.50" y2="421.40" stroke="#6c6c6c" stroke-width="1.0" />
<line x1="440.50" y1="421.40" x2="444.50" y2="421.40" stroke="#6c6c6c" stroke-width="1.0" />
<text transform="translate(437.70,424.15) scale(0.91,1)" font-size="8.6" text-anchor="end" >0</text>
<line x1="440.50" y1="399.20" x2="444.50" y2="399.20" stroke="#6c6c6c" stroke-width="1.0" />
<text transform="translate(437.70,401.95) scale(0.91,1)" font-size="8.6" text-anchor="end" >1</text>
<line x1="440.50" y1="377.00" x2="444.50" y2="377.00" stroke="#6c6c6c" stroke-width="1.0" />
<text transform="translate(437.70,379.75) scale(0.91,1)" font-size="8.6" text-anchor="end" >2</text>
<line x1="440.50" y1="354.80" x2="444.50" y2="354.80" stroke="#6c6c6c" stroke-width="1.0" />
<text transform="translate(437.70,357.55) scale(0.91,1)" font-size="8.6" text-anchor="end" >3</text>
<line x1="440.50" y1="332.60" x2="444.50" y2="332.60" stroke="#6c6c6c" stroke-width="1.0" />
<text transform="translate(437.70,335.35) scale(0.91,1)" font-size="8.6" text-anchor="end" >4</text>
<line x1="440.50" y1="421.40" x2="534.00" y2="421.40" stroke="#6c6c6c" stroke-width="1.0" />
<line x1="455.70" y1="421.40" x2="455.70" y2="425.00" stroke="#6c6c6c" stroke-width="1.0" />
<text transform="translate(455.70,433.70) scale(0.91,1)" font-size="8.6" text-anchor="middle" >0</text>
<line x1="472.35" y1="421.40" x2="472.35" y2="425.00" stroke="#6c6c6c" stroke-width="1.0" />
<text transform="translate(472.35,433.70) scale(0.91,1)" font-size="8.6" text-anchor="middle" >7</text>
<line x1="489.00" y1="421.40" x2="489.00" y2="425.00" stroke="#6c6c6c" stroke-width="1.0" />
<text transform="translate(489.00,433.70) scale(0.91,1)" font-size="8.6" text-anchor="middle" >14</text>
<line x1="505.65" y1="421.40" x2="505.65" y2="425.00" stroke="#6c6c6c" stroke-width="1.0" />
<text transform="translate(505.65,433.70) scale(0.91,1)" font-size="8.6" text-anchor="middle" >20</text>
<line x1="522.30" y1="421.40" x2="522.30" y2="425.00" stroke="#6c6c6c" stroke-width="1.0" />
<text transform="translate(522.30,433.70) scale(0.91,1)" font-size="8.6" text-anchor="middle" >26</text>
<line x1="472.35" y1="398.76" x2="472.35" y2="391.65" stroke="#ff3030" stroke-width="1.0" />
<line x1="470.35" y1="391.65" x2="474.35" y2="391.65" stroke="#ff3030" stroke-width="1.0" />
<line x1="489.00" y1="404.08" x2="489.00" y2="398.53" stroke="#ff3030" stroke-width="1.0" />
<line x1="487.00" y1="398.53" x2="491.00" y2="398.53" stroke="#ff3030" stroke-width="1.0" />
<line x1="505.65" y1="408.08" x2="505.65" y2="401.42" stroke="#ff3030" stroke-width="1.0" />
<line x1="503.65" y1="401.42" x2="507.65" y2="401.42" stroke="#ff3030" stroke-width="1.0" />
<line x1="522.30" y1="409.63" x2="522.30" y2="405.86" stroke="#ff3030" stroke-width="1.0" />
<line x1="520.30" y1="405.86" x2="524.30" y2="405.86" stroke="#ff3030" stroke-width="1.0" />
<path d="M455.70,421.40 L472.35,398.76 L489.00,404.08 L505.65,408.08 L522.30,409.63" fill="none" stroke="#ff3030" stroke-width="1.0"/>
<circle cx="455.70" cy="421.40" r="1.95" fill="#ff0a0a"/>
<circle cx="472.35" cy="398.76" r="1.95" fill="#ff0a0a"/>
<circle cx="489.00" cy="404.08" r="1.95" fill="#ff0a0a"/>
<circle cx="505.65" cy="408.08" r="1.95" fill="#ff0a0a"/>
<circle cx="522.30" cy="409.63" r="1.95" fill="#ff0a0a"/>
<line x1="472.35" y1="399.20" x2="472.35" y2="394.09" stroke="#3434e8" stroke-width="1.0" />
<line x1="470.35" y1="394.09" x2="474.35" y2="394.09" stroke="#3434e8" stroke-width="1.0" />
<line x1="489.00" y1="386.10" x2="489.00" y2="380.55" stroke="#3434e8" stroke-width="1.0" />
<line x1="487.00" y1="380.55" x2="491.00" y2="380.55" stroke="#3434e8" stroke-width="1.0" />
<line x1="505.65" y1="373.23" x2="505.65" y2="367.45" stroke="#3434e8" stroke-width="1.0" />
<line x1="503.65" y1="367.45" x2="507.65" y2="367.45" stroke="#3434e8" stroke-width="1.0" />
<line x1="522.30" y1="351.47" x2="522.30" y2="343.26" stroke="#3434e8" stroke-width="1.0" />
<line x1="520.30" y1="343.26" x2="524.30" y2="343.26" stroke="#3434e8" stroke-width="1.0" />
<path d="M455.70,421.40 L472.35,399.20 L489.00,386.10 L505.65,373.23 L522.30,351.47" fill="none" stroke="#3434e8" stroke-width="1.0"/>
<circle cx="455.70" cy="421.40" r="1.95" fill="#0606cc"/>
<circle cx="472.35" cy="399.20" r="1.95" fill="#0606cc"/>
<circle cx="489.00" cy="386.10" r="1.95" fill="#0606cc"/>
<circle cx="505.65" cy="373.23" r="1.95" fill="#0606cc"/>
<circle cx="522.30" cy="351.47" r="1.95" fill="#0606cc"/>
<text transform="translate(424.80,376.60) rotate(-90) scale(0.91,1)" font-size="8.6" text-anchor="middle" >Total flux (×10<tspan font-size="6" dy="-3.4">6</tspan><tspan dy="3.4"> p s</tspan><tspan font-size="6" dy="-3.4">−1</tspan><tspan dy="3.4">)</tspan></text>
<text transform="translate(489.00,445.60) scale(0.91,1)" font-size="8.6" text-anchor="middle" >Time (days)</text>
<text transform="translate(522.60,344.00) scale(0.91,1)" font-size="9" text-anchor="middle" fill="#111" style="stroke-width:0.3px;stroke:#111">****</text>
<line x1="446.60" y1="336.90" x2="457.90" y2="336.90" stroke="#9a9af5" stroke-width="1.5" />
<circle cx="452.25" cy="336.90" r="1.95" fill="#0a0ad2"/>
<text transform="translate(461.30,339.60) scale(0.91,1)" font-size="8.6" >Vehicle</text>
<line x1="446.60" y1="350.50" x2="457.90" y2="350.50" stroke="#ff3030" stroke-width="1.2" />
<circle cx="452.25" cy="350.50" r="1.95" fill="#ff1010"/>
<text transform="translate(461.30,353.20) scale(0.91,1)" font-size="8.6" >SD-36</text>
<text transform="translate(552.00,327.10)" font-size="11.2" font-weight="bold" fill="#000" >p</text>
<line x1="591.60" y1="333.50" x2="591.60" y2="422.00" stroke="#6c6c6c" stroke-width="1.0" />
<line x1="587.60" y1="422.00" x2="591.60" y2="422.00" stroke="#6c6c6c" stroke-width="1.0" />
<text transform="translate(584.80,424.75) scale(0.91,1)" font-size="8.6" text-anchor="end" >0</text>
<line x1="587.60" y1="404.30" x2="591.60" y2="404.30" stroke="#6c6c6c" stroke-width="1.0" />
<text transform="translate(584.80,407.05) scale(0.91,1)" font-size="8.6" text-anchor="end" >200</text>
<line x1="587.60" y1="386.60" x2="591.60" y2="386.60" stroke="#6c6c6c" stroke-width="1.0" />
<text transform="translate(584.80,389.35) scale(0.91,1)" font-size="8.6" text-anchor="end" >400</text>
<line x1="587.60" y1="368.90" x2="591.60" y2="368.90" stroke="#6c6c6c" stroke-width="1.0" />
<text transform="translate(584.80,371.65) scale(0.91,1)" font-size="8.6" text-anchor="end" >600</text>
<line x1="587.60" y1="351.20" x2="591.60" y2="351.20" stroke="#6c6c6c" stroke-width="1.0" />
<text transform="translate(584.80,353.95) scale(0.91,1)" font-size="8.6" text-anchor="end" >800</text>
<line x1="587.60" y1="333.50" x2="591.60" y2="333.50" stroke="#6c6c6c" stroke-width="1.0" />
<text transform="translate(584.80,336.25) scale(0.91,1)" font-size="8.6" text-anchor="end" >1,000</text>
<line x1="588.00" y1="422.00" x2="680.60" y2="422.00" stroke="#6c6c6c" stroke-width="1.0" />
<line x1="591.60" y1="422.00" x2="591.60" y2="425.60" stroke="#6c6c6c" stroke-width="1.0" />
<text transform="translate(591.60,434.30) scale(0.91,1)" font-size="8.6" text-anchor="middle" >0</text>
<line x1="609.40" y1="422.00" x2="609.40" y2="425.60" stroke="#6c6c6c" stroke-width="1.0" />
<text transform="translate(609.40,434.30) scale(0.91,1)" font-size="8.6" text-anchor="middle" >5</text>
<line x1="627.20" y1="422.00" x2="627.20" y2="425.60" stroke="#6c6c6c" stroke-width="1.0" />
<text transform="translate(627.20,434.30) scale(0.91,1)" font-size="8.6" text-anchor="middle" >10</text>
<line x1="645.00" y1="422.00" x2="645.00" y2="425.60" stroke="#6c6c6c" stroke-width="1.0" />
<text transform="translate(645.00,434.30) scale(0.91,1)" font-size="8.6" text-anchor="middle" >15</text>
<line x1="662.80" y1="422.00" x2="662.80" y2="425.60" stroke="#6c6c6c" stroke-width="1.0" />
<text transform="translate(662.80,434.30) scale(0.91,1)" font-size="8.6" text-anchor="middle" >20</text>
<line x1="680.60" y1="422.00" x2="680.60" y2="425.60" stroke="#6c6c6c" stroke-width="1.0" />
<text transform="translate(680.60,434.30) scale(0.91,1)" font-size="8.6" text-anchor="middle" >25</text>
<line x1="637.88" y1="410.14" x2="637.88" y2="407.49" stroke="#ff3030" stroke-width="1.0" />
<line x1="635.88" y1="407.49" x2="639.88" y2="407.49" stroke="#ff3030" stroke-width="1.0" />
<line x1="648.56" y1="403.24" x2="648.56" y2="399.52" stroke="#ff3030" stroke-width="1.0" />
<line x1="646.56" y1="399.52" x2="650.56" y2="399.52" stroke="#ff3030" stroke-width="1.0" />
<line x1="659.24" y1="394.03" x2="659.24" y2="389.08" stroke="#ff3030" stroke-width="1.0" />
<line x1="657.24" y1="389.08" x2="661.24" y2="389.08" stroke="#ff3030" stroke-width="1.0" />
<line x1="669.92" y1="385.72" x2="669.92" y2="378.46" stroke="#ff3030" stroke-width="1.0" />
<line x1="667.92" y1="378.46" x2="671.92" y2="378.46" stroke="#ff3030" stroke-width="1.0" />
<path d="M591.60,422.00 L616.52,418.11 L627.20,416.25 L637.88,410.14 L648.56,403.24 L659.24,394.03 L669.92,385.72" fill="none" stroke="#ff3030" stroke-width="1.0"/>
<circle cx="591.60" cy="422.00" r="1.95" fill="#ff0a0a"/>
<circle cx="616.52" cy="418.11" r="1.95" fill="#ff0a0a"/>
<circle cx="627.20" cy="416.25" r="1.95" fill="#ff0a0a"/>
<circle cx="637.88" cy="410.14" r="1.95" fill="#ff0a0a"/>
<circle cx="648.56" cy="403.24" r="1.95" fill="#ff0a0a"/>
<circle cx="659.24" cy="394.03" r="1.95" fill="#ff0a0a"/>
<circle cx="669.92" cy="385.72" r="1.95" fill="#ff0a0a"/>
<line x1="637.88" y1="400.23" x2="637.88" y2="397.84" stroke="#3434e8" stroke-width="1.0" />
<line x1="635.88" y1="397.84" x2="639.88" y2="397.84" stroke="#3434e8" stroke-width="1.0" />
<line x1="648.56" y1="392.80" x2="648.56" y2="387.57" stroke="#3434e8" stroke-width="1.0" />
<line x1="646.56" y1="387.57" x2="650.56" y2="387.57" stroke="#3434e8" stroke-width="1.0" />
<line x1="659.24" y1="378.46" x2="659.24" y2="369.79" stroke="#3434e8" stroke-width="1.0" />
<line x1="657.24" y1="369.79" x2="661.24" y2="369.79" stroke="#3434e8" stroke-width="1.0" />
<line x1="669.92" y1="357.84" x2="669.92" y2="345.45" stroke="#3434e8" stroke-width="1.0" />
<line x1="667.92" y1="345.45" x2="671.92" y2="345.45" stroke="#3434e8" stroke-width="1.0" />
<path d="M591.60,422.00 L616.52,418.11 L627.20,412.80 L637.88,400.23 L648.56,392.80 L659.24,378.46 L669.92,357.84" fill="none" stroke="#3434e8" stroke-width="1.0"/>
<circle cx="591.60" cy="422.00" r="1.95" fill="#0606cc"/>
<circle cx="616.52" cy="418.11" r="1.95" fill="#0606cc"/>
<circle cx="627.20" cy="412.80" r="1.95" fill="#0606cc"/>
<circle cx="637.88" cy="400.23" r="1.95" fill="#0606cc"/>
<circle cx="648.56" cy="392.80" r="1.95" fill="#0606cc"/>
<circle cx="659.24" cy="378.46" r="1.95" fill="#0606cc"/>
<circle cx="669.92" cy="357.84" r="1.95" fill="#0606cc"/>
<text transform="translate(561.40,377.20) rotate(-90) scale(0.91,1)" font-size="8.6" text-anchor="middle" >Tumour volume (mm<tspan font-size="6" dy="-3.4">3</tspan><tspan dy="3.4">)</tspan></text>
<text transform="translate(636.40,446.50) scale(0.91,1)" font-size="8.6" text-anchor="middle" >Time (days)</text>
<text transform="translate(670.10,343.90) scale(0.91,1)" font-size="9" text-anchor="middle" fill="#111" style="stroke-width:0.3px;stroke:#111">**</text>
<line x1="594.10" y1="336.90" x2="604.80" y2="336.90" stroke="#9a9af5" stroke-width="1.5" />
<circle cx="599.45" cy="336.90" r="1.95" fill="#0a0ad2"/>
<text transform="translate(608.70,339.60) scale(0.91,1)" font-size="8.6" >Vehicle</text>
<line x1="594.10" y1="350.50" x2="604.80" y2="350.50" stroke="#ff3030" stroke-width="1.2" />
<circle cx="599.45" cy="350.50" r="1.95" fill="#ff1010"/>
<text transform="translate(608.70,353.20) scale(0.91,1)" font-size="8.6" >SD-36</text>
<text transform="translate(390.00,458.40)" font-size="11.2" font-weight="bold" fill="#000" >s</text>
<line x1="431.20" y1="468.30" x2="431.20" y2="556.80" stroke="#6c6c6c" stroke-width="1.0" />
<line x1="427.20" y1="556.80" x2="431.20" y2="556.80" stroke="#6c6c6c" stroke-width="1.0" />
<text transform="translate(424.40,559.55) scale(0.91,1)" font-size="8.6" text-anchor="end" >0</text>
<line x1="427.20" y1="527.30" x2="431.20" y2="527.30" stroke="#6c6c6c" stroke-width="1.0" />
<text transform="translate(424.40,530.05) scale(0.91,1)" font-size="8.6" text-anchor="end" >2×10<tspan font-size="6" dy="-3.4">7</tspan></text>
<line x1="427.20" y1="497.80" x2="431.20" y2="497.80" stroke="#6c6c6c" stroke-width="1.0" />
<text transform="translate(424.40,500.55) scale(0.91,1)" font-size="8.6" text-anchor="end" >4×10<tspan font-size="6" dy="-3.4">7</tspan></text>
<line x1="427.20" y1="468.30" x2="431.20" y2="468.30" stroke="#6c6c6c" stroke-width="1.0" />
<text transform="translate(424.40,471.05) scale(0.91,1)" font-size="8.6" text-anchor="end" >6×10<tspan font-size="6" dy="-3.4">7</tspan></text>
<line x1="427.30" y1="556.80" x2="520.60" y2="556.80" stroke="#6c6c6c" stroke-width="1.0" />
<line x1="445.30" y1="556.80" x2="445.30" y2="560.40" stroke="#6c6c6c" stroke-width="1.0" />
<text transform="translate(445.30,570.40) scale(0.91,1)" font-size="8.6" text-anchor="middle" >14</text>
<line x1="465.70" y1="556.80" x2="465.70" y2="560.40" stroke="#6c6c6c" stroke-width="1.0" />
<text transform="translate(465.70,570.40) scale(0.91,1)" font-size="8.6" text-anchor="middle" >21</text>
<line x1="486.10" y1="556.80" x2="486.10" y2="560.40" stroke="#6c6c6c" stroke-width="1.0" />
<text transform="translate(486.10,570.40) scale(0.91,1)" font-size="8.6" text-anchor="middle" >27</text>
<line x1="506.50" y1="556.80" x2="506.50" y2="560.40" stroke="#6c6c6c" stroke-width="1.0" />
<text transform="translate(506.50,570.40) scale(0.91,1)" font-size="8.6" text-anchor="middle" >32</text>
<line x1="486.10" y1="527.45" x2="486.10" y2="521.55" stroke="#ff5050" stroke-width="1.0" />
<line x1="484.10" y1="521.55" x2="488.10" y2="521.55" stroke="#ff5050" stroke-width="1.0" />
<line x1="506.50" y1="525.82" x2="506.50" y2="521.55" stroke="#ff5050" stroke-width="1.0" />
<line x1="504.50" y1="521.55" x2="508.50" y2="521.55" stroke="#ff5050" stroke-width="1.0" />
<path d="M445.30,544.41 L465.70,541.31 L486.10,527.45 L506.50,525.82" fill="none" stroke="#ff5050" stroke-width="1.0"/>
<circle cx="445.30" cy="544.41" r="1.95" fill="#ff2a2a"/>
<circle cx="465.70" cy="541.31" r="1.95" fill="#ff2a2a"/>
<circle cx="486.10" cy="527.45" r="1.95" fill="#ff2a2a"/>
<circle cx="506.50" cy="525.82" r="1.95" fill="#ff2a2a"/>
<line x1="445.30" y1="542.79" x2="445.30" y2="536.44" stroke="#3434e8" stroke-width="1.0" />
<line x1="443.30" y1="536.44" x2="447.30" y2="536.44" stroke="#3434e8" stroke-width="1.0" />
<line x1="465.70" y1="536.30" x2="465.70" y2="534.38" stroke="#3434e8" stroke-width="1.0" />
<line x1="463.70" y1="534.38" x2="467.70" y2="534.38" stroke="#3434e8" stroke-width="1.0" />
<line x1="486.10" y1="507.39" x2="486.10" y2="492.64" stroke="#3434e8" stroke-width="1.0" />
<line x1="484.10" y1="492.64" x2="488.10" y2="492.64" stroke="#3434e8" stroke-width="1.0" />
<line x1="506.50" y1="496.32" x2="506.50" y2="481.57" stroke="#3434e8" stroke-width="1.0" />
<line x1="504.50" y1="481.57" x2="508.50" y2="481.57" stroke="#3434e8" stroke-width="1.0" />
<path d="M445.30,542.79 L465.70,536.30 L486.10,507.39 L506.50,496.32" fill="none" stroke="#3434e8" stroke-width="1.0"/>
<circle cx="445.30" cy="542.79" r="1.95" fill="#0606cc"/>
<circle cx="465.70" cy="536.30" r="1.95" fill="#0606cc"/>
<circle cx="486.10" cy="507.39" r="1.95" fill="#0606cc"/>
<circle cx="506.50" cy="496.32" r="1.95" fill="#0606cc"/>
<text transform="translate(396.20,511.40) rotate(-90) scale(0.91,1)" font-size="8.6" text-anchor="middle" >Total flux (p s<tspan font-size="6" dy="-3.4">−1</tspan><tspan dy="3.4">)</tspan></text>
<text transform="translate(476.20,582.60) scale(0.91,1)" font-size="8.6" text-anchor="middle" >Time (days)</text>
<text transform="translate(507.40,479.90) scale(0.91,1)" font-size="9" text-anchor="middle" fill="#111" style="stroke-width:0.3px;stroke:#111">*</text>
<line x1="433.10" y1="471.00" x2="444.20" y2="471.00" stroke="#9a9af5" stroke-width="1.5" />
<circle cx="438.65" cy="471.00" r="1.95" fill="#0a0ad2"/>
<text transform="translate(448.30,473.70) scale(0.91,1)" font-size="8.6" >Vehicle</text>
<line x1="433.10" y1="484.50" x2="444.20" y2="484.50" stroke="#ff3030" stroke-width="1.2" />
<circle cx="438.65" cy="484.50" r="1.95" fill="#ff1010"/>
<text transform="translate(448.30,487.20) scale(0.91,1)" font-size="8.6" >SD-36</text>
<text transform="translate(-0.30,458.80)" font-size="11.2" font-weight="bold" fill="#000" >q</text>
<line x1="48.40" y1="461.10" x2="48.40" y2="549.30" stroke="#6c6c6c" stroke-width="1.0" />
<line x1="44.40" y1="549.30" x2="48.40" y2="549.30" stroke="#6c6c6c" stroke-width="1.0" />
<text transform="translate(41.40,552.05) scale(0.91,1)" font-size="8.6" text-anchor="end" >0</text>
<line x1="44.40" y1="527.25" x2="48.40" y2="527.25" stroke="#6c6c6c" stroke-width="1.0" />
<text transform="translate(41.40,530.00) scale(0.91,1)" font-size="8.6" text-anchor="end" >1,000</text>
<line x1="44.40" y1="505.20" x2="48.40" y2="505.20" stroke="#6c6c6c" stroke-width="1.0" />
<text transform="translate(41.40,507.95) scale(0.91,1)" font-size="8.6" text-anchor="end" >2,000</text>
<line x1="44.40" y1="483.15" x2="48.40" y2="483.15" stroke="#6c6c6c" stroke-width="1.0" />
<text transform="translate(41.40,485.90) scale(0.91,1)" font-size="8.6" text-anchor="end" >3,000</text>
<line x1="44.40" y1="461.10" x2="48.40" y2="461.10" stroke="#6c6c6c" stroke-width="1.0" />
<text transform="translate(41.40,463.85) scale(0.91,1)" font-size="8.6" text-anchor="end" >4,000</text>
<line x1="44.40" y1="549.30" x2="186.50" y2="549.30" stroke="#6c6c6c" stroke-width="1.0" />
<line x1="54.30" y1="549.30" x2="54.30" y2="552.90" stroke="#6c6c6c" stroke-width="1.0" />
<text transform="translate(54.30,562.60) scale(0.91,1)" font-size="8.6" text-anchor="middle" >0</text>
<line x1="65.75" y1="549.30" x2="65.75" y2="552.90" stroke="#6c6c6c" stroke-width="1.0" />
<text transform="translate(65.75,562.60) scale(0.91,1)" font-size="8.6" text-anchor="middle" >3</text>
<line x1="77.20" y1="549.30" x2="77.20" y2="552.90" stroke="#6c6c6c" stroke-width="1.0" />
<text transform="translate(77.20,562.60) scale(0.91,1)" font-size="8.6" text-anchor="middle" >6</text>
<line x1="88.65" y1="549.30" x2="88.65" y2="552.90" stroke="#6c6c6c" stroke-width="1.0" />
<text transform="translate(88.65,562.60) scale(0.91,1)" font-size="8.6" text-anchor="middle" >9</text>
<line x1="100.10" y1="549.30" x2="100.10" y2="552.90" stroke="#6c6c6c" stroke-width="1.0" />
<text transform="translate(100.10,562.60) scale(0.91,1)" font-size="8.6" text-anchor="middle" >12</text>
<line x1="111.55" y1="549.30" x2="111.55" y2="552.90" stroke="#6c6c6c" stroke-width="1.0" />
<text transform="translate(111.55,562.60) scale(0.91,1)" font-size="8.6" text-anchor="middle" >15</text>
<line x1="123.00" y1="549.30" x2="123.00" y2="552.90" stroke="#6c6c6c" stroke-width="1.0" />
<text transform="translate(123.00,562.60) scale(0.91,1)" font-size="8.6" text-anchor="middle" >18</text>
<line x1="134.45" y1="549.30" x2="134.45" y2="552.90" stroke="#6c6c6c" stroke-width="1.0" />
<text transform="translate(134.45,562.60) scale(0.91,1)" font-size="8.6" text-anchor="middle" >21</text>
<line x1="145.90" y1="549.30" x2="145.90" y2="552.90" stroke="#6c6c6c" stroke-width="1.0" />
<text transform="translate(145.90,562.60) scale(0.91,1)" font-size="8.6" text-anchor="middle" >24</text>
<line x1="157.35" y1="549.30" x2="157.35" y2="552.90" stroke="#6c6c6c" stroke-width="1.0" />
<text transform="translate(157.35,562.60) scale(0.91,1)" font-size="8.6" text-anchor="middle" >27</text>
<line x1="168.80" y1="549.30" x2="168.80" y2="552.90" stroke="#6c6c6c" stroke-width="1.0" />
<text transform="translate(168.80,562.60) scale(0.91,1)" font-size="8.6" text-anchor="middle" >30</text>
<line x1="180.25" y1="549.30" x2="180.25" y2="552.90" stroke="#6c6c6c" stroke-width="1.0" />
<text transform="translate(180.25,562.60) scale(0.91,1)" font-size="8.6" text-anchor="middle" >33</text>
<text transform="translate(117.50,574.80) scale(0.91,1)" font-size="8.6" text-anchor="middle" >Time (days)</text>
<text transform="translate(14.90,503.80) rotate(-90) scale(0.91,1)" font-size="8.6" text-anchor="middle" >Tumour volume (mm<tspan font-size="6" dy="-3.4">3</tspan><tspan dy="3.4">)</tspan></text>
<path d="M54.30,531.66 L65.75,520.63 L77.20,509.61 L88.65,498.58 L100.10,477.20" fill="none" stroke="#ff3b3b" stroke-width="0.9"/>
<path d="M54.30,537.17 L65.75,531.66 L77.20,522.84 L88.65,512.92 L100.10,498.58 L111.55,480.72" fill="none" stroke="#ff3b3b" stroke-width="0.9"/>
<path d="M54.30,538.27 L65.75,533.87 L77.20,528.35 L88.65,521.74 L100.10,511.81 L111.55,495.28 L123.00,486.68 L134.45,481.83" fill="none" stroke="#ff3b3b" stroke-width="0.9"/>
<path d="M54.30,536.07 L65.75,528.35 L77.20,523.94 L88.65,518.43 L100.10,510.71 L111.55,502.99 L123.00,498.14 L134.45,489.99 L145.90,483.50" fill="none" stroke="#ff3b3b" stroke-width="0.9"/>
<path d="M54.30,541.58 L65.75,537.17 L77.20,531.66 L88.65,526.15 L100.10,520.63 L111.55,516.22 L123.00,511.81 L134.45,503.81 L145.90,494.00 L157.35,476.09" fill="none" stroke="#ff3b3b" stroke-width="0.9"/>
<path d="M54.30,539.38 L65.75,534.97 L77.20,529.45 L88.65,525.04 L100.10,520.63 L111.55,514.02 L123.00,509.61 L134.45,506.30 L145.90,503.81 L157.35,491.97 L168.80,478.61" fill="none" stroke="#ff3b3b" stroke-width="0.9"/>
<path d="M54.30,542.68 L65.75,539.38 L77.20,536.07 L88.65,531.66 L100.10,527.25 L111.55,522.84 L123.00,516.22 L134.45,508.51 L145.90,505.20 L157.35,495.28 L168.80,481.80" fill="none" stroke="#ff3b3b" stroke-width="0.9"/>
<path d="M54.30,544.89 L65.75,542.68 L77.20,539.38 L88.65,537.17 L100.10,534.97 L111.55,532.81 L123.00,525.79 L134.45,520.11 L145.90,511.11 L157.35,502.20 L168.80,489.99 L180.25,481.01" fill="none" stroke="#ff3b3b" stroke-width="0.9"/>
<path d="M54.30,532.76 L65.75,527.25 L77.20,514.02 L88.65,478.74" fill="none" stroke="#3b3bea" stroke-width="0.9"/>
<path d="M54.30,533.87 L65.75,525.04 L77.20,510.71 L88.65,495.28 L100.10,479.18" fill="none" stroke="#3b3bea" stroke-width="0.9"/>
<path d="M54.30,539.38 L65.75,533.87 L77.20,522.84 L88.65,509.61 L100.10,489.76" fill="none" stroke="#3b3bea" stroke-width="0.9"/>
<path d="M54.30,534.97 L65.75,529.45 L77.20,519.53 L88.65,507.40 L100.10,494.17 L111.55,481.61" fill="none" stroke="#3b3bea" stroke-width="0.9"/>
<path d="M54.30,540.48 L65.75,536.07 L77.20,529.45 L88.65,518.43 L100.10,505.20 L111.55,489.76 L123.00,469.92" fill="none" stroke="#3b3bea" stroke-width="0.9"/>
<path d="M54.30,542.68 L65.75,539.38 L77.20,532.76 L88.65,525.04 L100.10,516.22 L111.55,500.79 L123.00,482.05" fill="none" stroke="#3b3bea" stroke-width="0.9"/>
<path d="M54.30,541.58 L65.75,538.27 L77.20,531.66 L88.65,525.04 L100.10,519.53 L111.55,509.61 L123.00,494.17 L134.45,477.86" fill="none" stroke="#3b3bea" stroke-width="0.9"/>
<path d="M54.30,543.79 L65.75,540.48 L77.20,534.97 L88.65,530.56 L100.10,525.04 L111.55,520.63 L123.00,510.71 L134.45,495.28 L145.90,475.87" fill="none" stroke="#3b3bea" stroke-width="0.9"/>
<line x1="51.20" y1="462.00" x2="61.90" y2="462.00" stroke="#4040ee" stroke-width="1.0" />
<text transform="translate(66.60,464.70) scale(0.91,1)" font-size="8.6" >Vehicle</text>
<line x1="51.20" y1="471.40" x2="61.90" y2="471.40" stroke="#ff4040" stroke-width="1.0" />
<text transform="translate(66.60,474.10) scale(0.91,1)" font-size="8.6" >SD-36</text>
<text transform="translate(205.00,458.40)" font-size="11.2" font-weight="bold" fill="#000" >r</text>
<line x1="237.00" y1="460.50" x2="237.00" y2="549.70" stroke="#9a9a9a" stroke-width="1.3" />
<line x1="233.30" y1="549.70" x2="237.00" y2="549.70" stroke="#6c6c6c" stroke-width="1.0" />
<text transform="translate(229.90,552.45) scale(0.91,1)" font-size="8.6" text-anchor="end" >0</text>
<line x1="233.30" y1="509.40" x2="237.00" y2="509.40" stroke="#6c6c6c" stroke-width="1.0" />
<text transform="translate(229.90,512.15) scale(0.91,1)" font-size="8.6" text-anchor="end" >50</text>
<line x1="233.30" y1="469.10" x2="237.00" y2="469.10" stroke="#6c6c6c" stroke-width="1.0" />
<text transform="translate(229.90,471.85) scale(0.91,1)" font-size="8.6" text-anchor="end" >100</text>
<line x1="233.80" y1="549.70" x2="365.10" y2="549.70" stroke="#6c6c6c" stroke-width="1.0" />
<line x1="237.00" y1="549.70" x2="237.00" y2="553.30" stroke="#6c6c6c" stroke-width="1.0" />
<text transform="translate(237.00,562.50) scale(0.91,1)" font-size="8.6" text-anchor="middle" >0</text>
<line x1="269.10" y1="549.70" x2="269.10" y2="553.30" stroke="#6c6c6c" stroke-width="1.0" />
<text transform="translate(269.10,562.50) scale(0.91,1)" font-size="8.6" text-anchor="middle" >10</text>
<line x1="301.20" y1="549.70" x2="301.20" y2="553.30" stroke="#6c6c6c" stroke-width="1.0" />
<text transform="translate(301.20,562.50) scale(0.91,1)" font-size="8.6" text-anchor="middle" >20</text>
<line x1="333.30" y1="549.70" x2="333.30" y2="553.30" stroke="#6c6c6c" stroke-width="1.0" />
<text transform="translate(333.30,562.50) scale(0.91,1)" font-size="8.6" text-anchor="middle" >30</text>
<line x1="365.40" y1="549.70" x2="365.40" y2="553.30" stroke="#6c6c6c" stroke-width="1.0" />
<text transform="translate(365.40,562.50) scale(0.91,1)" font-size="8.6" text-anchor="middle" >40</text>
<text transform="translate(301.20,574.40) scale(0.91,1)" font-size="8.6" text-anchor="middle" >Time (days)</text>
<text transform="translate(211.20,505.30) rotate(-90) scale(0.91,1)" font-size="8.6" text-anchor="middle" >Probability of survival</text>
<path d="M237.00,469.10 H275.52 V479.18 H285.15 V489.25 H304.41 V499.33 H314.04 V509.40 H320.46 V519.48 H333.30 V539.62 H342.93 V549.70" fill="none" stroke="#ff4a4a" stroke-width="1.1"/>
<path d="M237.00,469.10 H265.89 V479.18 H275.52 V489.25 H278.73 V499.33 H286.11 V509.40 H288.36 V519.48 H294.78 V529.55 H304.41 V539.62 H310.83 V549.70" fill="none" stroke="#4a4ae8" stroke-width="1.1" opacity="0.9"/>
<line x1="299.60" y1="469.70" x2="310.70" y2="469.70" stroke="#4040ee" stroke-width="1.0" />
<text transform="translate(314.80,472.40) scale(0.91,1)" font-size="8.6" >Vehicle</text>
<line x1="299.60" y1="481.00" x2="310.70" y2="481.00" stroke="#ff4040" stroke-width="1.0" />
<text transform="translate(314.80,483.70) scale(0.91,1)" font-size="8.6" >SD-36</text>
<line x1="343.40" y1="466.40" x2="343.40" y2="483.80" stroke="#222" stroke-width="0.9" />
<text transform="translate(348.70,480.40) scale(0.91,1)" font-size="8" text-anchor="middle" fill="#111" style="stroke-width:0.4px;stroke:#111">*</text>
<text transform="translate(536.60,458.60)" font-size="11.2" font-weight="bold" fill="#000" >t</text>
<text transform="translate(557.30,476.90) scale(0.91,1)" font-size="8.6" text-anchor="middle" >Vehicle</text>
<text transform="translate(597.90,476.90) scale(0.91,1)" font-size="8.6" text-anchor="middle" >SD-36</text>
<g clip-path="url(#tclip)">
<rect x="540.8" y="480.8" width="76" height="85.5" fill="#3e3e3e"/>
<rect x="544.5" y="480.8" width="1.5" height="85.5" fill="#505050" opacity="0.8"/>
<rect x="549" y="480.8" width="1.2" height="85.5" fill="#2e2e2e" opacity="0.8"/>
<rect x="567.5" y="480.8" width="1.5" height="85.5" fill="#4c4c4c" opacity="0.8"/>
<rect x="573.5" y="480.8" width="1.2" height="85.5" fill="#555" opacity="0.8"/>
<rect x="576.2" y="480.8" width="0.8" height="85.5" fill="#6a6a6a" opacity="0.8"/>
<rect x="579.5" y="480.8" width="1.2" height="85.5" fill="#2c2c2c" opacity="0.8"/>
<rect x="586" y="480.8" width="1.5" height="85.5" fill="#4a4a4a" opacity="0.8"/>
<rect x="604" y="480.8" width="1.5" height="85.5" fill="#505050" opacity="0.8"/>
<rect x="609.5" y="480.8" width="1.2" height="85.5" fill="#333" opacity="0.8"/>
<rect x="614.5" y="480.8" width="1.4" height="85.5" fill="#585858" opacity="0.8"/>
<line x1="577.40" y1="480.80" x2="577.40" y2="566.30" stroke="#222" stroke-width="0.9" />
<g filter="url(#bl3)">
<path d="M553.3,490.5 L561.2,490.5 C563.5,492.5 565.5,494.5 566.5,497 C568.5,499.5 570.5,503 571.5,507 C572.8,511 573.3,516 573.2,521 C572.8,525 570.5,529 569.8,533 C569.5,538 571,544 573,550 C574.5,556 575,561 574.5,567 L540.8,567 L540.8,507 C541.5,504.5 542.5,502.5 544.2,501.2 C545.5,499 547,497.5 548.6,496 C550,493.8 551.5,492 553.3,490.5 Z" fill="url(#bodyG)" filter="url(#fur)"/>
<path d="M593.2,490.5 L600.6,490.5 C602.5,492.2 604,494 605.1,496 C606.8,498.2 608,500.5 608.9,503 C610,505 611.2,506.2 612.5,505.2 C613.8,504 615.5,504 616,505.5 C616.4,507.5 615,510 613.8,512.5 C612.8,514.5 612,516 611.8,519 C611.5,524 611.5,530 611.5,540 C611.6,550 611.6,558 611.5,567 L582,567 C581.8,555 581.9,540 581.9,528 C582,520 582.5,515 583,512 C583.3,510 583.8,508.5 584.8,507.2 C583,507.8 581,507.8 579.6,507.2 C580.5,504.5 583,501.5 586.3,499.8 C587,498.5 587.8,497 588.4,496 C589.8,494 591.3,492 593.2,490.5 Z" fill="url(#bodyG2)" filter="url(#fur)"/>
</g>
<g filter="url(#bl2)">
<path d="M580.2,506.8 C581.5,503.8 584,501.5 586.8,500.2 C585.5,502.5 584.5,504.5 584,507 Z" fill="#8c8c8c"/>
<ellipse cx="554.6" cy="507.7" rx="2.6" ry="1.4" fill="#7a7a7a"/>
<ellipse cx="595.7" cy="508.5" rx="2.4" ry="1.5" fill="#7e7e7e"/>
<ellipse cx="545.9" cy="541.7" rx="2.6" ry="5" fill="#f4f4f4"/>
<ellipse cx="544" cy="561" rx="3.5" ry="4" fill="#8a8a8a" opacity="0.8"/>
<ellipse cx="562" cy="500" rx="3" ry="2" fill="#a8a8a8" opacity="0.7"/>
<ellipse cx="549" cy="517" rx="3" ry="2" fill="#a6a6a6" opacity="0.6"/>
<ellipse cx="590" cy="512" rx="2.5" ry="2" fill="#eeeeee" opacity="0.8"/>
<ellipse cx="605" cy="511" rx="2.5" ry="3" fill="#a2a2a2" opacity="0.7"/>
<ellipse cx="613" cy="510" rx="1.8" ry="3" fill="#ececec" opacity="0.8"/>
<ellipse cx="594" cy="530" rx="5" ry="8" fill="#f0f0f0" opacity="0.6"/>
<ellipse cx="592" cy="551" rx="2" ry="1.5" fill="#9a9a9a" opacity="0.6"/>
</g>
<path d="M551.2,480.8 L562.8,480.8 L561.2,490.6 L552.8,490.6 Z" fill="#8e8e8e" opacity="0.9" filter="url(#bl3)"/>
<rect x="555.7" y="483.6" width="1.1" height="7.0" fill="#f6f6f6" filter="url(#bl3)"/>
<rect x="557.9" y="483.6" width="1.1" height="7.0" fill="#f6f6f6" filter="url(#bl3)"/>
<path d="M590.9000000000001,480.8 L602.5,480.8 L600.9000000000001,490.6 L592.5,490.6 Z" fill="#8e8e8e" opacity="0.9" filter="url(#bl3)"/>
<rect x="595.4000000000001" y="483.6" width="1.1" height="7.0" fill="#f6f6f6" filter="url(#bl3)"/>
<rect x="597.6" y="483.6" width="1.1" height="7.0" fill="#f6f6f6" filter="url(#bl3)"/>
<g filter="url(#bl3)">
<path d="M564,508.6 C566,508.2 567.8,508.8 568.2,510.5 C569.8,511.5 571,513.5 570.8,516 C571.3,518.5 570.5,521.5 569.5,523.5 C568.5,525 567,526.2 566,525.8 C564.8,524.5 564.5,523 563.2,521.5 C562,520.5 561,518.5 561.5,516.8 C561,515 561.8,513.5 562.8,512.5 C562.5,511 563,509.5 564,508.6 Z" fill="#5c10ff"/>
<path d="M564.4,510 C566,509.7 567.3,510.5 567.6,512 C569,513 570,515 569.8,517 C570,519.5 569.2,522 568,523.5 C567,524.8 565.5,524.5 564.8,523 C563.8,521.5 562.5,520 562.6,518 C562.3,516 563,514 563.6,512.8 C563.5,511.5 563.8,510.5 564.4,510 Z" fill="#1c1cff"/>
<ellipse cx="566.2" cy="519.6" rx="2.6" ry="2.6" fill="#0090ff"/>
<ellipse cx="566.2" cy="519.7" rx="1.8" ry="1.8" fill="#00d8c0"/>
<ellipse cx="566.3" cy="519.8" rx="1.1" ry="1.1" fill="#70e830"/>
<circle cx="566.3" cy="519.8" r="0.5" fill="#e0f000"/>
<path d="M563.5,537.2 C566,536 569,536.5 571,538.5 C573.5,540.5 575,543.5 575.5,547 C576,550 575.5,552 575.8,553.5 C577,554 578,555.5 576.5,557.5 C575,559 573,559 571.5,560.5 C569.5,562.3 566,561.8 563.5,561.8 C561,561.5 559.5,559.8 558,558.2 C556.5,556.8 554.5,556 553,554.8 C551.8,553.5 551.8,551.5 552.8,550.5 C554,549.5 555.8,549.5 556.6,548 C557.2,545 558.5,542 560,540 C561,538.5 562,537.8 563.5,537.2 Z" fill="#5c10ff"/>
<path d="M564,538.8 C567,538 570,539 572,541.5 C574,544 574.5,547.5 574.5,551 C574.5,554.5 573,557.5 570.5,559 C568,560.5 564.5,560.5 562,559.5 C559.5,558.5 558,556.5 557.5,553.5 C557.2,549.5 558,545 560,542 C561,540.3 562.5,539.2 564,538.8 Z" fill="#1c1cff"/>
<ellipse cx="566.4" cy="549.4" rx="7.0" ry="8.6" fill="#00b0ff"/>
<ellipse cx="566.2" cy="549.8" rx="6.0" ry="7.6" fill="#00e0c8"/>
<ellipse cx="565.6" cy="550.4" rx="4.8" ry="6.4" fill="#20e040"/>
<ellipse cx="569.1" cy="543.9" rx="3.0" ry="2.9" fill="#3050ff"/>
<ellipse cx="569.1" cy="543.9" rx="1.8" ry="1.8" fill="#4a18e8"/>
<ellipse cx="563.6" cy="547.3" rx="1.3" ry="1.6" fill="#c8f020"/>
<ellipse cx="565.0" cy="553.4" rx="3.4" ry="2.3" fill="#d8f000"/>
<ellipse cx="565.0" cy="553.5" rx="2.4" ry="1.5" fill="#ff5a00"/>
<ellipse cx="565.0" cy="553.5" rx="1.6" ry="1.0" fill="#ff1000"/>
<path d="M607.5,538.3 C610.5,537.8 613.5,539 614.8,541.5 C615.8,544 615.5,547 614.5,549.5 C613.8,551 613,552.5 612.3,553.5 C611.5,555 610.5,556.5 608.5,557.5 C606,558.6 602.5,558.4 600.5,556.8 C599,555.2 599,552.5 599.2,550.5 C599.5,548 600.8,546 602.5,544.5 C603.5,542.5 605,539.5 607.5,538.3 Z" fill="#5c10ff"/>
<path d="M607.8,539.5 C610.5,539 613,540.2 614,542.3 C614.8,544.5 614.3,547 613.3,549.3 C612.5,551 611.5,553 610,555 C608.5,556.5 606,557.2 603.5,556.8 C601.5,556.2 600.3,554.5 600.3,552.5 C600.3,550 601.5,547.5 603.3,545.5 C604.3,543 605.5,540.5 607.8,539.5 Z" fill="#1c1cff"/>
<ellipse cx="610.0" cy="541.8" rx="3.3" ry="1.9" fill="#00b8f0" transform="rotate(18 610 541.8)"/>
<ellipse cx="610.0" cy="541.8" rx="2.2" ry="1.2" fill="#10e8b0" transform="rotate(18 610 541.8)"/>
<ellipse cx="604.5" cy="553.0" rx="2.5" ry="1.6" fill="#1060ff"/>
<path d="M608,547.2 C609.8,546.5 611.6,547.3 612,549 C612.3,551 611,552.8 609.4,553.2 C607.8,553.4 606.8,552.2 606.8,550.6 C606.8,549 607,547.8 608,547.2 Z" fill="#a4a4b4"/>
</g>
</g>
<rect x="621.0" y="480.7" width="3.0" height="85.4" fill="url(#cbar)"/>
<line x1="624.00" y1="481.30" x2="626.20" y2="481.30" stroke="#333" stroke-width="0.8" />
<text transform="translate(628.60,484.05) scale(0.91,1)" font-size="8.6" >3.0</text>
<line x1="624.00" y1="496.25" x2="626.20" y2="496.25" stroke="#333" stroke-width="0.8" />
<text transform="translate(628.60,499.00) scale(0.91,1)" font-size="8.6" >2.5</text>
<line x1="624.00" y1="511.20" x2="626.20" y2="511.20" stroke="#333" stroke-width="0.8" />
<text transform="translate(628.60,513.95) scale(0.91,1)" font-size="8.6" >2.0</text>
<line x1="624.00" y1="526.15" x2="626.20" y2="526.15" stroke="#333" stroke-width="0.8" />
<text transform="translate(628.60,528.90) scale(0.91,1)" font-size="8.6" >1.5</text>
<line x1="624.00" y1="541.10" x2="626.20" y2="541.10" stroke="#333" stroke-width="0.8" />
<text transform="translate(628.60,543.85) scale(0.91,1)" font-size="8.6" >1.0</text>
<line x1="624.00" y1="556.05" x2="626.20" y2="556.05" stroke="#333" stroke-width="0.8" />
<text transform="translate(628.60,558.80) scale(0.91,1)" font-size="8.6" >0.5</text>
<text transform="translate(655.30,523.90) rotate(-90) scale(0.91,1)" font-size="8.6" text-anchor="middle" >Radiance (×10<tspan font-size="6" dy="-3.4">6</tspan><tspan dy="3.4"> p s</tspan><tspan font-size="6" dy="-3.4">−1</tspan></text>
<text transform="translate(667.00,523.60) rotate(-90) scale(0.91,1)" font-size="8.6" text-anchor="middle" >cm<tspan font-size="6" dy="-3.4">−2</tspan><tspan dy="3.4"> sr</tspan><tspan font-size="6" dy="-3.4">−1</tspan><tspan dy="3.4">)</tspan></text>
</svg>
</body></html>
